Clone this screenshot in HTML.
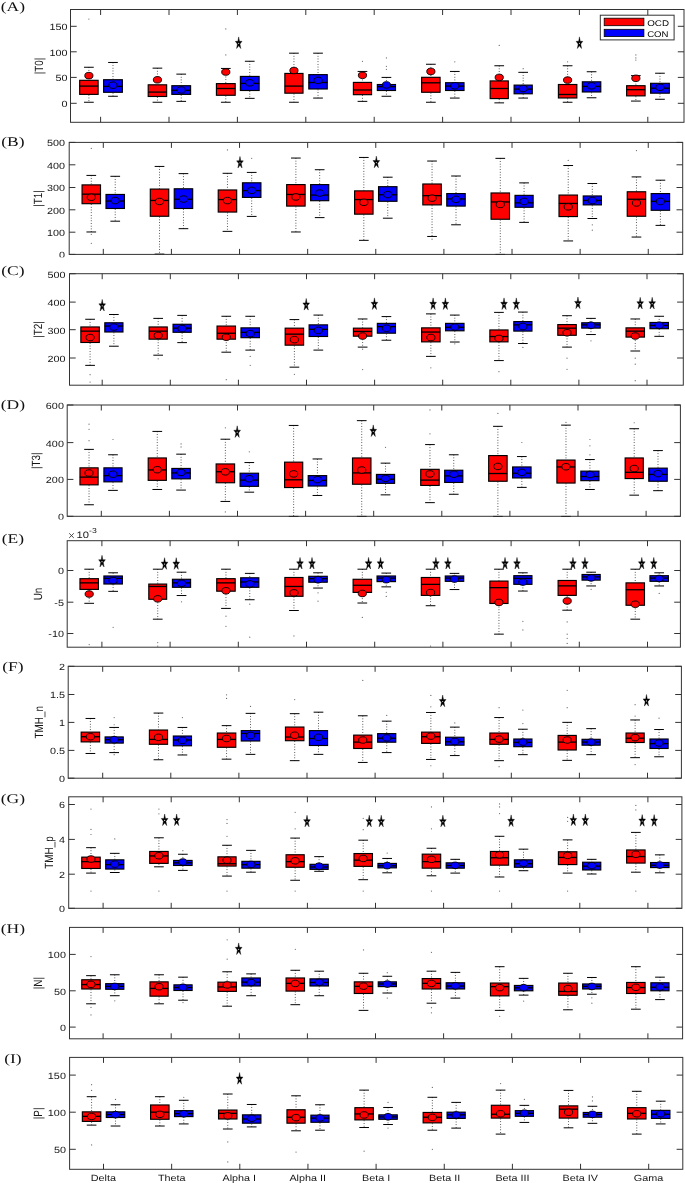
<!DOCTYPE html>
<html><head><meta charset="utf-8"><title>Figure</title>
<style>html,body{margin:0;padding:0;background:#fff}body{width:685px;height:1183px;overflow:hidden;font-family:"Liberation Sans",sans-serif}</style>
</head><body>
<svg width="685" height="1183" viewBox="0 0 685 1183" style="display:block;font-family:'Liberation Sans',sans-serif;text-rendering:geometricPrecision;will-change:transform">
<rect width="685" height="1183" fill="#fff"/>
<g id="pA">
<path d="M88.89 67.25V79.82M88.89 94.88V102.26" stroke="#000" stroke-width="0.8" stroke-dasharray="0.8 1.9" fill="none"/>
<path d="M84.04 67.25H93.74M84.04 102.26H93.74" stroke="#000" stroke-width="1" fill="none"/>
<rect x="79.67" y="80.32" width="18.45" height="14.06" fill="#ff0000" stroke="#000" stroke-width="1.15"/>
<path d="M79.57 86.1H98.22" stroke="#000" stroke-width="1.3"/>
<ellipse cx="88.89" cy="75.63" rx="4.1" ry="3.25" fill="#ff0000" stroke="#000" stroke-width="0.9"/>
<circle cx="88.89" cy="19.07" r="0.62" fill="#6a6a6a"/>
<path d="M112.99 62.46V79.22M112.99 92.79V96.28" stroke="#000" stroke-width="0.8" stroke-dasharray="0.8 1.9" fill="none"/>
<path d="M108.14 62.46H117.84M108.14 96.28H117.84" stroke="#000" stroke-width="1" fill="none"/>
<rect x="103.61" y="79.72" width="18.75" height="12.57" fill="#0000ff" stroke="#000" stroke-width="1.15"/>
<path d="M103.51 86.4H122.46" stroke="#000" stroke-width="1.3"/>
<ellipse cx="112.99" cy="85.2" rx="4.1" ry="3.25" fill="#0000ff" stroke="#000" stroke-width="0.9"/>
<path d="M157.43 68.15V84.31M157.43 96.98V102.26" stroke="#000" stroke-width="0.8" stroke-dasharray="0.8 1.9" fill="none"/>
<path d="M152.58 68.15H162.28M152.58 102.26H162.28" stroke="#000" stroke-width="1" fill="none"/>
<rect x="148.2" y="84.81" width="18.45" height="11.67" fill="#ff0000" stroke="#000" stroke-width="1.15"/>
<path d="M148.1 92.09H166.75" stroke="#000" stroke-width="1.3"/>
<ellipse cx="157.43" cy="79.82" rx="4.1" ry="3.25" fill="#ff0000" stroke="#000" stroke-width="0.9"/>
<path d="M181.22 74.13V85.2M181.22 94.88V101.36" stroke="#000" stroke-width="0.8" stroke-dasharray="0.8 1.9" fill="none"/>
<path d="M176.37 74.13H186.07M176.37 101.36H186.07" stroke="#000" stroke-width="1" fill="none"/>
<rect x="171.84" y="85.7" width="18.75" height="8.68" fill="#0000ff" stroke="#000" stroke-width="1.15"/>
<path d="M171.74 90.29H190.69" stroke="#000" stroke-width="1.3"/>
<ellipse cx="181.22" cy="89.99" rx="4.1" ry="3.25" fill="#0000ff" stroke="#000" stroke-width="0.9"/>
<path d="M225.81 68.45V83.11M225.81 95.78V102.26" stroke="#000" stroke-width="0.8" stroke-dasharray="0.8 1.9" fill="none"/>
<path d="M220.96 68.45H230.66M220.96 102.26H230.66" stroke="#000" stroke-width="1" fill="none"/>
<rect x="216.43" y="83.61" width="18.75" height="11.67" fill="#ff0000" stroke="#000" stroke-width="1.15"/>
<path d="M216.33 88.5H235.29" stroke="#000" stroke-width="1.3"/>
<ellipse cx="225.81" cy="72.04" rx="4.1" ry="3.25" fill="#ff0000" stroke="#000" stroke-width="0.9"/>
<circle cx="225.81" cy="28.94" r="0.62" fill="#6a6a6a"/>
<circle cx="225.81" cy="54.98" r="0.62" fill="#6a6a6a"/>
<path d="M249.75 61.26V75.93M249.75 90.99V98.37" stroke="#000" stroke-width="0.8" stroke-dasharray="0.8 1.9" fill="none"/>
<path d="M244.9 61.26H254.6M244.9 98.37H254.6" stroke="#000" stroke-width="1" fill="none"/>
<rect x="240.38" y="76.43" width="18.75" height="14.06" fill="#0000ff" stroke="#000" stroke-width="1.15"/>
<path d="M240.28 83.41H259.23" stroke="#000" stroke-width="1.3"/>
<ellipse cx="249.75" cy="82.81" rx="4.1" ry="3.25" fill="#0000ff" stroke="#000" stroke-width="0.9"/>
<polygon points="238.68,36.89 239.48,41.31 242.03,41.33 239.97,44.07 240.75,48.49 238.68,45.78 236.61,48.49 237.39,44.07 235.33,41.33 237.88,41.31" fill="#000" stroke="#000" stroke-width="0.4" stroke-linejoin="miter"/><circle cx="238.68" cy="43.31" r="0.6" fill="#ddd"/>
<path d="M293.94 53.18V72.93M293.94 93.69V102.26" stroke="#000" stroke-width="0.8" stroke-dasharray="0.8 1.9" fill="none"/>
<path d="M289.09 53.18H298.79M289.09 102.26H298.79" stroke="#000" stroke-width="1" fill="none"/>
<rect x="284.86" y="73.43" width="18.15" height="19.75" fill="#ff0000" stroke="#000" stroke-width="1.15"/>
<path d="M284.76 86.1H303.12" stroke="#000" stroke-width="1.3"/>
<ellipse cx="293.94" cy="70.54" rx="4.1" ry="3.25" fill="#ff0000" stroke="#000" stroke-width="0.9"/>
<path d="M318.03 53.18V74.13M318.03 89.5V98.07" stroke="#000" stroke-width="0.8" stroke-dasharray="0.8 1.9" fill="none"/>
<path d="M313.18 53.18H322.88M313.18 98.07H322.88" stroke="#000" stroke-width="1" fill="none"/>
<rect x="308.81" y="74.63" width="18.45" height="14.36" fill="#0000ff" stroke="#000" stroke-width="1.15"/>
<path d="M308.71 82.51H327.36" stroke="#000" stroke-width="1.3"/>
<ellipse cx="318.03" cy="80.42" rx="4.1" ry="3.25" fill="#0000ff" stroke="#000" stroke-width="0.9"/>
<path d="M362.47 71.44V81.91M362.47 95.18V101.36" stroke="#000" stroke-width="0.8" stroke-dasharray="0.8 1.9" fill="none"/>
<path d="M357.62 71.44H367.32M357.62 101.36H367.32" stroke="#000" stroke-width="1" fill="none"/>
<rect x="353.4" y="82.41" width="18.15" height="12.27" fill="#ff0000" stroke="#000" stroke-width="1.15"/>
<path d="M353.3 89.99H371.65" stroke="#000" stroke-width="1.3"/>
<ellipse cx="362.47" cy="75.33" rx="4.1" ry="3.25" fill="#ff0000" stroke="#000" stroke-width="0.9"/>
<circle cx="362.47" cy="61.26" r="0.62" fill="#6a6a6a"/>
<path d="M386.42 77.42V84.01M386.42 90.99V96.28" stroke="#000" stroke-width="0.8" stroke-dasharray="0.8 1.9" fill="none"/>
<path d="M381.57 77.42H391.27M381.57 96.28H391.27" stroke="#000" stroke-width="1" fill="none"/>
<rect x="377.34" y="84.51" width="18.15" height="5.98" fill="#0000ff" stroke="#000" stroke-width="1.15"/>
<path d="M377.24 86.7H395.59" stroke="#000" stroke-width="1.3"/>
<ellipse cx="386.42" cy="84.91" rx="4.1" ry="3.25" fill="#0000ff" stroke="#000" stroke-width="0.9"/>
<circle cx="386.42" cy="57.97" r="0.62" fill="#6a6a6a"/>
<circle cx="386.42" cy="66.35" r="0.62" fill="#6a6a6a"/>
<circle cx="386.42" cy="69.34" r="0.62" fill="#6a6a6a"/>
<path d="M430.86 64.26V76.82M430.86 92.79V102.26" stroke="#000" stroke-width="0.8" stroke-dasharray="0.8 1.9" fill="none"/>
<path d="M426.01 64.26H435.71M426.01 102.26H435.71" stroke="#000" stroke-width="1" fill="none"/>
<rect x="421.63" y="77.32" width="18.45" height="14.96" fill="#ff0000" stroke="#000" stroke-width="1.15"/>
<path d="M421.53 82.81H440.18" stroke="#000" stroke-width="1.3"/>
<ellipse cx="430.86" cy="71.44" rx="4.1" ry="3.25" fill="#ff0000" stroke="#000" stroke-width="0.9"/>
<path d="M454.8 71.44V82.21M454.8 90.99V98.07" stroke="#000" stroke-width="0.8" stroke-dasharray="0.8 1.9" fill="none"/>
<path d="M449.95 71.44H459.65M449.95 98.07H459.65" stroke="#000" stroke-width="1" fill="none"/>
<rect x="445.57" y="82.71" width="18.45" height="7.78" fill="#0000ff" stroke="#000" stroke-width="1.15"/>
<path d="M445.47 86.1H464.13" stroke="#000" stroke-width="1.3"/>
<ellipse cx="454.8" cy="85.8" rx="4.1" ry="3.25" fill="#0000ff" stroke="#000" stroke-width="0.9"/>
<circle cx="454.8" cy="61.86" r="0.62" fill="#6a6a6a"/>
<path d="M499.24 65.75V80.42M499.24 99.07V102.86" stroke="#000" stroke-width="0.8" stroke-dasharray="0.8 1.9" fill="none"/>
<path d="M494.39 65.75H504.09M494.39 102.86H504.09" stroke="#000" stroke-width="1" fill="none"/>
<rect x="490.16" y="80.92" width="18.15" height="17.66" fill="#ff0000" stroke="#000" stroke-width="1.15"/>
<path d="M490.06 88.5H508.42" stroke="#000" stroke-width="1.3"/>
<ellipse cx="499.24" cy="77.42" rx="4.1" ry="3.25" fill="#ff0000" stroke="#000" stroke-width="0.9"/>
<circle cx="499.24" cy="45.4" r="0.62" fill="#6a6a6a"/>
<path d="M523.18 72.34V84.61M523.18 94.28V98.07" stroke="#000" stroke-width="0.8" stroke-dasharray="0.8 1.9" fill="none"/>
<path d="M518.33 72.34H528.03M518.33 98.07H528.03" stroke="#000" stroke-width="1" fill="none"/>
<rect x="514.11" y="85.11" width="18.15" height="8.68" fill="#0000ff" stroke="#000" stroke-width="1.15"/>
<path d="M514.01 89.1H532.36" stroke="#000" stroke-width="1.3"/>
<ellipse cx="523.18" cy="88.5" rx="4.1" ry="3.25" fill="#0000ff" stroke="#000" stroke-width="0.9"/>
<circle cx="523.18" cy="68.74" r="0.62" fill="#6a6a6a"/>
<path d="M567.62 65.75V84.01M567.62 98.47V102.26" stroke="#000" stroke-width="0.8" stroke-dasharray="0.8 1.9" fill="none"/>
<path d="M562.77 65.75H572.47M562.77 102.26H572.47" stroke="#000" stroke-width="1" fill="none"/>
<rect x="558.4" y="84.51" width="18.45" height="13.47" fill="#ff0000" stroke="#000" stroke-width="1.15"/>
<path d="M558.3 94.48H576.95" stroke="#000" stroke-width="1.3"/>
<ellipse cx="567.62" cy="80.12" rx="4.1" ry="3.25" fill="#ff0000" stroke="#000" stroke-width="0.9"/>
<circle cx="567.62" cy="61.86" r="0.62" fill="#6a6a6a"/>
<path d="M591.57 71.74V81.31M591.57 92.49V97.77" stroke="#000" stroke-width="0.8" stroke-dasharray="0.8 1.9" fill="none"/>
<path d="M586.72 71.74H596.42M586.72 97.77H596.42" stroke="#000" stroke-width="1" fill="none"/>
<rect x="582.34" y="81.81" width="18.45" height="10.17" fill="#0000ff" stroke="#000" stroke-width="1.15"/>
<path d="M582.24 86.4H600.89" stroke="#000" stroke-width="1.3"/>
<ellipse cx="591.57" cy="85.8" rx="4.1" ry="3.25" fill="#0000ff" stroke="#000" stroke-width="0.9"/>
<path d="M635.86 75.63V85.2M635.86 96.38V101.07" stroke="#000" stroke-width="0.8" stroke-dasharray="0.8 1.9" fill="none"/>
<path d="M631.01 75.63H640.71M631.01 101.07H640.71" stroke="#000" stroke-width="1" fill="none"/>
<rect x="626.63" y="85.7" width="18.45" height="10.17" fill="#ff0000" stroke="#000" stroke-width="1.15"/>
<path d="M626.53 89.69H645.18" stroke="#000" stroke-width="1.3"/>
<ellipse cx="635.86" cy="78.32" rx="4.1" ry="3.25" fill="#ff0000" stroke="#000" stroke-width="0.9"/>
<circle cx="635.86" cy="54.98" r="0.62" fill="#6a6a6a"/>
<circle cx="635.86" cy="57.97" r="0.62" fill="#6a6a6a"/>
<circle cx="635.86" cy="60.07" r="0.62" fill="#6a6a6a"/>
<path d="M659.95 73.23V82.81M659.95 93.69V99.27" stroke="#000" stroke-width="0.8" stroke-dasharray="0.8 1.9" fill="none"/>
<path d="M655.1 73.23H664.8M655.1 99.27H664.8" stroke="#000" stroke-width="1" fill="none"/>
<rect x="650.57" y="83.31" width="18.75" height="9.88" fill="#0000ff" stroke="#000" stroke-width="1.15"/>
<path d="M650.47 88.2H669.42" stroke="#000" stroke-width="1.3"/>
<ellipse cx="659.95" cy="87.3" rx="4.1" ry="3.25" fill="#0000ff" stroke="#000" stroke-width="0.9"/>
<polygon points="579.45,36.89 580.24,41.31 582.8,41.33 580.74,44.07 581.52,48.49 579.45,45.78 577.37,48.49 578.16,44.07 576.1,41.33 578.65,41.31" fill="#000" stroke="#000" stroke-width="0.4" stroke-linejoin="miter"/><circle cx="579.45" cy="43.31" r="0.6" fill="#ddd"/>
<rect x="70.5" y="9.5" width="613.5" height="112.8" fill="none" stroke="#333" stroke-width="1"/>
<path d="M100.6 122.3v-5.5M100.6 9.5v5.5M169 122.3v-5.5M169 9.5v5.5M237.4 122.3v-5.5M237.4 9.5v5.5M305.8 122.3v-5.5M305.8 9.5v5.5M374.2 122.3v-5.5M374.2 9.5v5.5M442.6 122.3v-5.5M442.6 9.5v5.5M511 122.3v-5.5M511 9.5v5.5M579.4 122.3v-5.5M579.4 9.5v5.5M647.8 122.3v-5.5M647.8 9.5v5.5M70.5 26.3h6.2M684 26.3h-6.2M70.5 51.8h6.2M684 51.8h-6.2M70.5 77.4h6.2M684 77.4h-6.2M70.5 103.3h6.2M684 103.3h-6.2" stroke="#333" stroke-width="1" fill="none"/>
<text transform="translate(67.5 30.2) scale(1.2 1)" font-size="9" text-anchor="end" fill="#151515">150</text>
<text transform="translate(67.5 55.7) scale(1.2 1)" font-size="9" text-anchor="end" fill="#151515">100</text>
<text transform="translate(67.5 81.3) scale(1.2 1)" font-size="9" text-anchor="end" fill="#151515">50</text>
<text transform="translate(67.5 107.2) scale(1.2 1)" font-size="9" text-anchor="end" fill="#151515">0</text>
<text transform="translate(43.4 65.9) scale(1.2 1) rotate(-90)" font-size="9.9" text-anchor="middle" fill="#151515">|T0|</text>
<text transform="translate(12.9 10.9) scale(1.316 1)" font-family="'Liberation Serif',serif" font-size="13.3" text-anchor="middle" fill="#111">(A)</text>
</g>
<g id="pB">
<path d="M91.29 175.41V184.39M91.29 204.19V231.97" stroke="#000" stroke-width="0.8" stroke-dasharray="0.8 1.9" fill="none"/>
<path d="M86.44 175.41H96.14M86.44 231.97H96.14" stroke="#000" stroke-width="1" fill="none"/>
<rect x="82.06" y="184.89" width="18.45" height="18.8" fill="#ff0000" stroke="#000" stroke-width="1.15"/>
<path d="M81.96 194.16H100.61" stroke="#000" stroke-width="1.3"/>
<ellipse cx="91.29" cy="197.26" rx="4.1" ry="3.25" fill="#ff0000" stroke="#000" stroke-width="0.9"/>
<circle cx="91.29" cy="148.47" r="0.62" fill="#6a6a6a"/>
<circle cx="91.29" cy="234.36" r="0.62" fill="#6a6a6a"/>
<circle cx="91.29" cy="243.34" r="0.62" fill="#6a6a6a"/>
<path d="M115.23 176.31V193.96M115.23 208.98V221.2" stroke="#000" stroke-width="0.8" stroke-dasharray="0.8 1.9" fill="none"/>
<path d="M110.38 176.31H120.08M110.38 221.2H120.08" stroke="#000" stroke-width="1" fill="none"/>
<rect x="106" y="194.46" width="18.45" height="14.01" fill="#0000ff" stroke="#000" stroke-width="1.15"/>
<path d="M105.9 201.05H124.56" stroke="#000" stroke-width="1.3"/>
<ellipse cx="115.23" cy="200.55" rx="4.1" ry="3.25" fill="#0000ff" stroke="#000" stroke-width="0.9"/>
<path d="M159.52 166.43V188.58M159.52 216.76V254.12" stroke="#000" stroke-width="0.8" stroke-dasharray="0.8 1.9" fill="none"/>
<path d="M154.67 166.43H164.37M154.67 254.12H164.37" stroke="#000" stroke-width="1" fill="none"/>
<rect x="150.3" y="189.08" width="18.45" height="27.18" fill="#ff0000" stroke="#000" stroke-width="1.15"/>
<path d="M150.2 200.45H168.85" stroke="#000" stroke-width="1.3"/>
<ellipse cx="159.52" cy="201.45" rx="4.1" ry="3.25" fill="#ff0000" stroke="#000" stroke-width="0.9"/>
<path d="M183.46 173.61V188.28M183.46 208.98V228.68" stroke="#000" stroke-width="0.8" stroke-dasharray="0.8 1.9" fill="none"/>
<path d="M178.61 173.61H188.31M178.61 228.68H188.31" stroke="#000" stroke-width="1" fill="none"/>
<rect x="174.24" y="188.78" width="18.45" height="19.7" fill="#0000ff" stroke="#000" stroke-width="1.15"/>
<path d="M174.14 199.25H192.79" stroke="#000" stroke-width="1.3"/>
<ellipse cx="183.46" cy="199.05" rx="4.1" ry="3.25" fill="#0000ff" stroke="#000" stroke-width="0.9"/>
<path d="M227.46 173.31V189.47M227.46 212.57V231.37" stroke="#000" stroke-width="0.8" stroke-dasharray="0.8 1.9" fill="none"/>
<path d="M222.61 173.31H232.31M222.61 231.37H232.31" stroke="#000" stroke-width="1" fill="none"/>
<rect x="218.23" y="189.97" width="18.45" height="22.09" fill="#ff0000" stroke="#000" stroke-width="1.15"/>
<path d="M218.13 199.55H236.78" stroke="#000" stroke-width="1.3"/>
<ellipse cx="227.46" cy="200.55" rx="4.1" ry="3.25" fill="#ff0000" stroke="#000" stroke-width="0.9"/>
<circle cx="227.46" cy="149.97" r="0.62" fill="#6a6a6a"/>
<path d="M251.7 172.42V182.29M251.7 197.9V216.41" stroke="#000" stroke-width="0.8" stroke-dasharray="0.8 1.9" fill="none"/>
<path d="M246.85 172.42H256.55M246.85 216.41H256.55" stroke="#000" stroke-width="1" fill="none"/>
<rect x="242.47" y="182.79" width="18.45" height="14.61" fill="#0000ff" stroke="#000" stroke-width="1.15"/>
<path d="M242.37 190.57H261.02" stroke="#000" stroke-width="1.3"/>
<ellipse cx="251.7" cy="190.37" rx="4.1" ry="3.25" fill="#0000ff" stroke="#000" stroke-width="0.9"/>
<circle cx="251.7" cy="158.35" r="0.62" fill="#6a6a6a"/>
<polygon points="239.98,156.43 240.77,160.84 243.33,160.86 241.27,163.6 242.05,168.03 239.98,165.31 237.91,168.03 238.69,163.6 236.63,160.86 239.18,160.84" fill="#000" stroke="#000" stroke-width="0.4" stroke-linejoin="miter"/><circle cx="239.98" cy="162.84" r="0.6" fill="#ddd"/>
<path d="M295.89 158.05V184.09M295.89 206.58V231.97" stroke="#000" stroke-width="0.8" stroke-dasharray="0.8 1.9" fill="none"/>
<path d="M291.04 158.05H300.74M291.04 231.97H300.74" stroke="#000" stroke-width="1" fill="none"/>
<rect x="286.66" y="184.59" width="18.45" height="21.5" fill="#ff0000" stroke="#000" stroke-width="1.15"/>
<path d="M286.56 194.46H305.21" stroke="#000" stroke-width="1.3"/>
<ellipse cx="295.89" cy="196.96" rx="4.1" ry="3.25" fill="#ff0000" stroke="#000" stroke-width="0.9"/>
<path d="M319.68 169.72V184.09M319.68 201.2V217.61" stroke="#000" stroke-width="0.8" stroke-dasharray="0.8 1.9" fill="none"/>
<path d="M314.83 169.72H324.53M314.83 217.61H324.53" stroke="#000" stroke-width="1" fill="none"/>
<rect x="310.6" y="184.59" width="18.15" height="16.11" fill="#0000ff" stroke="#000" stroke-width="1.15"/>
<path d="M310.5 195.06H328.86" stroke="#000" stroke-width="1.3"/>
<ellipse cx="319.68" cy="193.07" rx="4.1" ry="3.25" fill="#0000ff" stroke="#000" stroke-width="0.9"/>
<path d="M363.82 157.45V190.37M363.82 214.66V240.35" stroke="#000" stroke-width="0.8" stroke-dasharray="0.8 1.9" fill="none"/>
<path d="M358.97 157.45H368.67M358.97 240.35H368.67" stroke="#000" stroke-width="1" fill="none"/>
<rect x="354.59" y="190.87" width="18.45" height="23.29" fill="#ff0000" stroke="#000" stroke-width="1.15"/>
<path d="M354.49 199.55H373.15" stroke="#000" stroke-width="1.3"/>
<ellipse cx="363.82" cy="202.34" rx="4.1" ry="3.25" fill="#ff0000" stroke="#000" stroke-width="0.9"/>
<path d="M387.76 177.2V186.18M387.76 201.8V218.2" stroke="#000" stroke-width="0.8" stroke-dasharray="0.8 1.9" fill="none"/>
<path d="M382.91 177.2H392.61M382.91 218.2H392.61" stroke="#000" stroke-width="1" fill="none"/>
<rect x="378.54" y="186.68" width="18.45" height="14.61" fill="#0000ff" stroke="#000" stroke-width="1.15"/>
<path d="M378.44 194.76H397.09" stroke="#000" stroke-width="1.3"/>
<ellipse cx="387.76" cy="194.56" rx="4.1" ry="3.25" fill="#0000ff" stroke="#000" stroke-width="0.9"/>
<path d="M432.05 161.04V183.49M432.05 205.39V236.46" stroke="#000" stroke-width="0.8" stroke-dasharray="0.8 1.9" fill="none"/>
<path d="M427.2 161.04H436.9M427.2 236.46H436.9" stroke="#000" stroke-width="1" fill="none"/>
<rect x="422.83" y="183.99" width="18.45" height="20.9" fill="#ff0000" stroke="#000" stroke-width="1.15"/>
<path d="M422.73 195.66H441.38" stroke="#000" stroke-width="1.3"/>
<ellipse cx="432.05" cy="198.15" rx="4.1" ry="3.25" fill="#ff0000" stroke="#000" stroke-width="0.9"/>
<circle cx="432.05" cy="239.15" r="0.62" fill="#6a6a6a"/>
<path d="M456 176.01V193.07M456 206.58V224.79" stroke="#000" stroke-width="0.8" stroke-dasharray="0.8 1.9" fill="none"/>
<path d="M451.15 176.01H460.85M451.15 224.79H460.85" stroke="#000" stroke-width="1" fill="none"/>
<rect x="446.77" y="193.57" width="18.45" height="12.52" fill="#0000ff" stroke="#000" stroke-width="1.15"/>
<path d="M446.67 198.95H465.32" stroke="#000" stroke-width="1.3"/>
<ellipse cx="456" cy="199.35" rx="4.1" ry="3.25" fill="#0000ff" stroke="#000" stroke-width="0.9"/>
<polygon points="376.34,156.13 377.14,160.54 379.69,160.56 377.63,163.3 378.41,167.73 376.34,165.01 374.27,167.73 375.05,163.3 372.99,160.56 375.54,160.54" fill="#000" stroke="#000" stroke-width="0.4" stroke-linejoin="miter"/><circle cx="376.34" cy="162.54" r="0.6" fill="#ddd"/>
<path d="M500.29 158.35V192.47M500.29 219.75V254.42" stroke="#000" stroke-width="0.8" stroke-dasharray="0.8 1.9" fill="none"/>
<path d="M495.44 158.35H505.14M495.44 254.42H505.14" stroke="#000" stroke-width="1" fill="none"/>
<rect x="491.06" y="192.97" width="18.45" height="26.28" fill="#ff0000" stroke="#000" stroke-width="1.15"/>
<path d="M490.96 201.94H509.61" stroke="#000" stroke-width="1.3"/>
<ellipse cx="500.29" cy="204.44" rx="4.1" ry="3.25" fill="#ff0000" stroke="#000" stroke-width="0.9"/>
<path d="M524.08 182.89V194.86M524.08 207.78V222.39" stroke="#000" stroke-width="0.8" stroke-dasharray="0.8 1.9" fill="none"/>
<path d="M519.23 182.89H528.93M519.23 222.39H528.93" stroke="#000" stroke-width="1" fill="none"/>
<rect x="515" y="195.36" width="18.15" height="11.92" fill="#0000ff" stroke="#000" stroke-width="1.15"/>
<path d="M514.9 202.84H533.26" stroke="#000" stroke-width="1.3"/>
<ellipse cx="524.08" cy="201.45" rx="4.1" ry="3.25" fill="#0000ff" stroke="#000" stroke-width="0.9"/>
<path d="M568.22 165.53V194.56M568.22 217.06V240.95" stroke="#000" stroke-width="0.8" stroke-dasharray="0.8 1.9" fill="none"/>
<path d="M563.37 165.53H573.07M563.37 240.95H573.07" stroke="#000" stroke-width="1" fill="none"/>
<rect x="559" y="195.06" width="18.45" height="21.5" fill="#ff0000" stroke="#000" stroke-width="1.15"/>
<path d="M558.9 203.44H577.55" stroke="#000" stroke-width="1.3"/>
<ellipse cx="568.22" cy="206.83" rx="4.1" ry="3.25" fill="#ff0000" stroke="#000" stroke-width="0.9"/>
<circle cx="568.22" cy="160.45" r="0.62" fill="#6a6a6a"/>
<path d="M592.31 183.49V195.46M592.31 205.39V218.5" stroke="#000" stroke-width="0.8" stroke-dasharray="0.8 1.9" fill="none"/>
<path d="M587.46 183.49H597.16M587.46 218.5H597.16" stroke="#000" stroke-width="1" fill="none"/>
<rect x="583.24" y="195.96" width="18.15" height="8.93" fill="#0000ff" stroke="#000" stroke-width="1.15"/>
<path d="M583.14 200.45H601.49" stroke="#000" stroke-width="1.3"/>
<ellipse cx="592.31" cy="200.55" rx="4.1" ry="3.25" fill="#0000ff" stroke="#000" stroke-width="0.9"/>
<circle cx="592.31" cy="224.79" r="0.62" fill="#6a6a6a"/>
<circle cx="592.31" cy="230.18" r="0.62" fill="#6a6a6a"/>
<path d="M636.46 176.91V191.27M636.46 216.76V237.06" stroke="#000" stroke-width="0.8" stroke-dasharray="0.8 1.9" fill="none"/>
<path d="M631.61 176.91H641.31M631.61 237.06H641.31" stroke="#000" stroke-width="1" fill="none"/>
<rect x="627.23" y="191.77" width="18.45" height="24.49" fill="#ff0000" stroke="#000" stroke-width="1.15"/>
<path d="M627.13 199.25H645.78" stroke="#000" stroke-width="1.3"/>
<ellipse cx="636.46" cy="202.94" rx="4.1" ry="3.25" fill="#ff0000" stroke="#000" stroke-width="0.9"/>
<circle cx="636.46" cy="150.57" r="0.62" fill="#6a6a6a"/>
<path d="M660.4 180.2V193.07M660.4 210.77V225.39" stroke="#000" stroke-width="0.8" stroke-dasharray="0.8 1.9" fill="none"/>
<path d="M655.55 180.2H665.25M655.55 225.39H665.25" stroke="#000" stroke-width="1" fill="none"/>
<rect x="651.17" y="193.57" width="18.45" height="16.71" fill="#0000ff" stroke="#000" stroke-width="1.15"/>
<path d="M651.07 201.35H669.72" stroke="#000" stroke-width="1.3"/>
<ellipse cx="660.4" cy="201.45" rx="4.1" ry="3.25" fill="#0000ff" stroke="#000" stroke-width="0.9"/>
<rect x="69.2" y="142.4" width="613.5" height="112" fill="none" stroke="#333" stroke-width="1"/>
<path d="M103.3 254.4v-5.5M103.3 142.4v5.5M171.42 254.4v-5.5M171.42 142.4v5.5M239.54 254.4v-5.5M239.54 142.4v5.5M307.66 254.4v-5.5M307.66 142.4v5.5M375.78 254.4v-5.5M375.78 142.4v5.5M443.9 254.4v-5.5M443.9 142.4v5.5M512.02 254.4v-5.5M512.02 142.4v5.5M580.14 254.4v-5.5M580.14 142.4v5.5M648.26 254.4v-5.5M648.26 142.4v5.5M69.2 142.4h6.2M682.7 142.4h-6.2M69.2 164.8h6.2M682.7 164.8h-6.2M69.2 187.5h6.2M682.7 187.5h-6.2M69.2 209.8h6.2M682.7 209.8h-6.2M69.2 232.2h6.2M682.7 232.2h-6.2M69.2 254.4h6.2M682.7 254.4h-6.2" stroke="#333" stroke-width="1" fill="none"/>
<text transform="translate(65.1 146.3) scale(1.2 1)" font-size="9" text-anchor="end" fill="#151515">500</text>
<text transform="translate(65.1 168.7) scale(1.2 1)" font-size="9" text-anchor="end" fill="#151515">400</text>
<text transform="translate(65.1 191.4) scale(1.2 1)" font-size="9" text-anchor="end" fill="#151515">300</text>
<text transform="translate(65.1 213.7) scale(1.2 1)" font-size="9" text-anchor="end" fill="#151515">200</text>
<text transform="translate(65.1 236.1) scale(1.2 1)" font-size="9" text-anchor="end" fill="#151515">100</text>
<text transform="translate(65.1 258.3) scale(1.2 1)" font-size="9" text-anchor="end" fill="#151515">0</text>
<text transform="translate(42.2 198.4) scale(1.2 1) rotate(-90)" font-size="9.9" text-anchor="middle" fill="#151515">|T1|</text>
<text transform="translate(12.9 145.8) scale(1.316 1)" font-family="'Liberation Serif',serif" font-size="13.3" text-anchor="middle" fill="#111">(B)</text>
</g>
<g id="pC">
<path d="M90.09 319.28V326.46M90.09 342.97V365.36" stroke="#000" stroke-width="0.8" stroke-dasharray="0.8 1.9" fill="none"/>
<path d="M85.24 319.28H94.94M85.24 365.36H94.94" stroke="#000" stroke-width="1" fill="none"/>
<rect x="80.86" y="326.96" width="18.45" height="15.51" fill="#ff0000" stroke="#000" stroke-width="1.15"/>
<path d="M80.76 331.15H99.42" stroke="#000" stroke-width="1.3"/>
<ellipse cx="90.09" cy="337.53" rx="4.1" ry="3.25" fill="#ff0000" stroke="#000" stroke-width="0.9"/>
<circle cx="90.09" cy="374.64" r="0.62" fill="#6a6a6a"/>
<circle cx="90.09" cy="382.12" r="0.62" fill="#6a6a6a"/>
<path d="M113.88 314.49V322.27M113.88 332.5V346.21" stroke="#000" stroke-width="0.8" stroke-dasharray="0.8 1.9" fill="none"/>
<path d="M109.03 314.49H118.73M109.03 346.21H118.73" stroke="#000" stroke-width="1" fill="none"/>
<rect x="104.81" y="322.77" width="18.15" height="9.23" fill="#0000ff" stroke="#000" stroke-width="1.15"/>
<path d="M104.71 326.06H123.06" stroke="#000" stroke-width="1.3"/>
<ellipse cx="113.88" cy="327.06" rx="4.1" ry="3.25" fill="#0000ff" stroke="#000" stroke-width="0.9"/>
<path d="M158.18 318.38V326.46M158.18 339.68V355.19" stroke="#000" stroke-width="0.8" stroke-dasharray="0.8 1.9" fill="none"/>
<path d="M153.33 318.38H163.03M153.33 355.19H163.03" stroke="#000" stroke-width="1" fill="none"/>
<rect x="149.1" y="326.96" width="18.15" height="12.22" fill="#ff0000" stroke="#000" stroke-width="1.15"/>
<path d="M149 331.15H167.35" stroke="#000" stroke-width="1.3"/>
<ellipse cx="158.18" cy="335.44" rx="4.1" ry="3.25" fill="#ff0000" stroke="#000" stroke-width="0.9"/>
<circle cx="158.18" cy="358.78" r="0.62" fill="#6a6a6a"/>
<path d="M182.12 315.39V323.77M182.12 332.8V342.62" stroke="#000" stroke-width="0.8" stroke-dasharray="0.8 1.9" fill="none"/>
<path d="M177.27 315.39H186.97M177.27 342.62H186.97" stroke="#000" stroke-width="1" fill="none"/>
<rect x="173.04" y="324.27" width="18.15" height="8.03" fill="#0000ff" stroke="#000" stroke-width="1.15"/>
<path d="M172.94 328.16H191.29" stroke="#000" stroke-width="1.3"/>
<ellipse cx="182.12" cy="328.55" rx="4.1" ry="3.25" fill="#0000ff" stroke="#000" stroke-width="0.9"/>
<path d="M226.26 316.28V325.56M226.26 339.68V352.2" stroke="#000" stroke-width="0.8" stroke-dasharray="0.8 1.9" fill="none"/>
<path d="M221.41 316.28H231.11M221.41 352.2H231.11" stroke="#000" stroke-width="1" fill="none"/>
<rect x="217.03" y="326.06" width="18.45" height="13.12" fill="#ff0000" stroke="#000" stroke-width="1.15"/>
<path d="M216.93 333.24H235.59" stroke="#000" stroke-width="1.3"/>
<ellipse cx="226.26" cy="337.23" rx="4.1" ry="3.25" fill="#ff0000" stroke="#000" stroke-width="0.9"/>
<circle cx="226.26" cy="379.73" r="0.62" fill="#6a6a6a"/>
<path d="M250.2 316.28V327.36M250.2 338.18V350.1" stroke="#000" stroke-width="0.8" stroke-dasharray="0.8 1.9" fill="none"/>
<path d="M245.35 316.28H255.05M245.35 350.1H255.05" stroke="#000" stroke-width="1" fill="none"/>
<rect x="240.97" y="327.86" width="18.45" height="9.82" fill="#0000ff" stroke="#000" stroke-width="1.15"/>
<path d="M240.87 332.35H259.53" stroke="#000" stroke-width="1.3"/>
<ellipse cx="250.2" cy="333.64" rx="4.1" ry="3.25" fill="#0000ff" stroke="#000" stroke-width="0.9"/>
<circle cx="250.2" cy="356.39" r="0.62" fill="#6a6a6a"/>
<circle cx="250.2" cy="365.36" r="0.62" fill="#6a6a6a"/>
<polygon points="102.21,299.4 103.01,303.81 105.56,303.83 103.5,306.57 104.28,311 102.21,308.28 100.14,311 100.92,306.57 98.86,303.83 101.41,303.81" fill="#000" stroke="#000" stroke-width="0.4" stroke-linejoin="miter"/><circle cx="102.21" cy="305.81" r="0.6" fill="#ddd"/>
<path d="M294.39 319.58V327.66M294.39 345.66V367.16" stroke="#000" stroke-width="0.8" stroke-dasharray="0.8 1.9" fill="none"/>
<path d="M289.54 319.58H299.24M289.54 367.16H299.24" stroke="#000" stroke-width="1" fill="none"/>
<rect x="285.16" y="328.16" width="18.45" height="17.01" fill="#ff0000" stroke="#000" stroke-width="1.15"/>
<path d="M285.06 334.14H303.72" stroke="#000" stroke-width="1.3"/>
<ellipse cx="294.39" cy="339.63" rx="4.1" ry="3.25" fill="#ff0000" stroke="#000" stroke-width="0.9"/>
<circle cx="294.39" cy="374.34" r="0.62" fill="#6a6a6a"/>
<path d="M318.33 315.09V324.36M318.33 336.99V350.1" stroke="#000" stroke-width="0.8" stroke-dasharray="0.8 1.9" fill="none"/>
<path d="M313.48 315.09H323.18M313.48 350.1H323.18" stroke="#000" stroke-width="1" fill="none"/>
<rect x="309.11" y="324.86" width="18.45" height="11.62" fill="#0000ff" stroke="#000" stroke-width="1.15"/>
<path d="M309.01 329.35H327.66" stroke="#000" stroke-width="1.3"/>
<ellipse cx="318.33" cy="330.35" rx="4.1" ry="3.25" fill="#0000ff" stroke="#000" stroke-width="0.9"/>
<path d="M362.62 318.98V327.66M362.62 336.69V347.11" stroke="#000" stroke-width="0.8" stroke-dasharray="0.8 1.9" fill="none"/>
<path d="M357.77 318.98H367.47M357.77 347.11H367.47" stroke="#000" stroke-width="1" fill="none"/>
<rect x="353.4" y="328.16" width="18.45" height="8.03" fill="#ff0000" stroke="#000" stroke-width="1.15"/>
<path d="M353.3 331.45H371.95" stroke="#000" stroke-width="1.3"/>
<ellipse cx="362.62" cy="336.04" rx="4.1" ry="3.25" fill="#ff0000" stroke="#000" stroke-width="0.9"/>
<circle cx="362.62" cy="349.2" r="0.62" fill="#6a6a6a"/>
<circle cx="362.62" cy="369.55" r="0.62" fill="#6a6a6a"/>
<path d="M386.42 316.58V322.87M386.42 333.69V340.23" stroke="#000" stroke-width="0.8" stroke-dasharray="0.8 1.9" fill="none"/>
<path d="M381.57 316.58H391.27M381.57 340.23H391.27" stroke="#000" stroke-width="1" fill="none"/>
<rect x="377.34" y="323.37" width="18.15" height="9.82" fill="#0000ff" stroke="#000" stroke-width="1.15"/>
<path d="M377.24 326.66H395.59" stroke="#000" stroke-width="1.3"/>
<ellipse cx="386.42" cy="328.26" rx="4.1" ry="3.25" fill="#0000ff" stroke="#000" stroke-width="0.9"/>
<path d="M430.86 313.89V327.36M430.86 342.37V356.39" stroke="#000" stroke-width="0.8" stroke-dasharray="0.8 1.9" fill="none"/>
<path d="M426.01 313.89H435.71M426.01 356.39H435.71" stroke="#000" stroke-width="1" fill="none"/>
<rect x="421.63" y="327.86" width="18.45" height="14.01" fill="#ff0000" stroke="#000" stroke-width="1.15"/>
<path d="M421.53 332.05H440.18" stroke="#000" stroke-width="1.3"/>
<ellipse cx="430.86" cy="337.53" rx="4.1" ry="3.25" fill="#ff0000" stroke="#000" stroke-width="0.9"/>
<circle cx="430.86" cy="367.76" r="0.62" fill="#6a6a6a"/>
<path d="M454.8 315.09V322.87M454.8 331.3V342.02" stroke="#000" stroke-width="0.8" stroke-dasharray="0.8 1.9" fill="none"/>
<path d="M449.95 315.09H459.65M449.95 342.02H459.65" stroke="#000" stroke-width="1" fill="none"/>
<rect x="445.57" y="323.37" width="18.45" height="7.43" fill="#0000ff" stroke="#000" stroke-width="1.15"/>
<path d="M445.47 327.26H464.13" stroke="#000" stroke-width="1.3"/>
<ellipse cx="454.8" cy="327.06" rx="4.1" ry="3.25" fill="#0000ff" stroke="#000" stroke-width="0.9"/>
<circle cx="454.8" cy="343.82" r="0.62" fill="#6a6a6a"/>
<polygon points="306.21,298.5 307.01,302.92 309.56,302.93 307.5,305.68 308.28,310.1 306.21,307.38 304.14,310.1 304.92,305.68 302.86,302.93 305.41,302.92" fill="#000" stroke="#000" stroke-width="0.4" stroke-linejoin="miter"/><circle cx="306.21" cy="304.91" r="0.6" fill="#ddd"/>
<polygon points="374.45,297.9 375.24,302.32 377.8,302.33 375.74,305.08 376.52,309.5 374.45,306.78 372.37,309.5 373.16,305.08 371.1,302.33 373.65,302.32" fill="#000" stroke="#000" stroke-width="0.4" stroke-linejoin="miter"/><circle cx="374.45" cy="304.31" r="0.6" fill="#ddd"/>
<polygon points="433.1,297.9 433.9,302.32 436.45,302.33 434.39,305.08 435.17,309.5 433.1,306.78 431.03,309.5 431.81,305.08 429.75,302.33 432.31,302.32" fill="#000" stroke="#000" stroke-width="0.4" stroke-linejoin="miter"/><circle cx="433.1" cy="304.31" r="0.6" fill="#ddd"/>
<polygon points="445.37,297.9 446.17,302.32 448.72,302.33 446.66,305.08 447.44,309.5 445.37,306.78 443.3,309.5 444.08,305.08 442.02,302.33 444.58,302.32" fill="#000" stroke="#000" stroke-width="0.4" stroke-linejoin="miter"/><circle cx="445.37" cy="304.31" r="0.6" fill="#ddd"/>
<path d="M498.94 312.39V329.45M498.94 342.37V360.58" stroke="#000" stroke-width="0.8" stroke-dasharray="0.8 1.9" fill="none"/>
<path d="M494.09 312.39H503.79M494.09 360.58H503.79" stroke="#000" stroke-width="1" fill="none"/>
<rect x="489.86" y="329.95" width="18.15" height="11.92" fill="#ff0000" stroke="#000" stroke-width="1.15"/>
<path d="M489.76 336.54H508.12" stroke="#000" stroke-width="1.3"/>
<ellipse cx="498.94" cy="338.43" rx="4.1" ry="3.25" fill="#ff0000" stroke="#000" stroke-width="0.9"/>
<circle cx="498.94" cy="371.65" r="0.62" fill="#6a6a6a"/>
<path d="M522.88 312.09V321.07M522.88 331.6V343.52" stroke="#000" stroke-width="0.8" stroke-dasharray="0.8 1.9" fill="none"/>
<path d="M518.03 312.09H527.73M518.03 343.52H527.73" stroke="#000" stroke-width="1" fill="none"/>
<rect x="513.81" y="321.57" width="18.15" height="9.53" fill="#0000ff" stroke="#000" stroke-width="1.15"/>
<path d="M513.71 324.86H532.06" stroke="#000" stroke-width="1.3"/>
<ellipse cx="522.88" cy="326.46" rx="4.1" ry="3.25" fill="#0000ff" stroke="#000" stroke-width="0.9"/>
<circle cx="522.88" cy="347.41" r="0.62" fill="#6a6a6a"/>
<path d="M567.03 315.69V324.07M567.03 335.79V347.11" stroke="#000" stroke-width="0.8" stroke-dasharray="0.8 1.9" fill="none"/>
<path d="M562.18 315.69H571.88M562.18 347.11H571.88" stroke="#000" stroke-width="1" fill="none"/>
<rect x="557.8" y="324.57" width="18.45" height="10.72" fill="#ff0000" stroke="#000" stroke-width="1.15"/>
<path d="M557.7 328.16H576.35" stroke="#000" stroke-width="1.3"/>
<ellipse cx="567.03" cy="332.74" rx="4.1" ry="3.25" fill="#ff0000" stroke="#000" stroke-width="0.9"/>
<circle cx="567.03" cy="358.18" r="0.62" fill="#6a6a6a"/>
<circle cx="567.03" cy="369.26" r="0.62" fill="#6a6a6a"/>
<path d="M590.97 318.38V322.27M590.97 328.61V334.54" stroke="#000" stroke-width="0.8" stroke-dasharray="0.8 1.9" fill="none"/>
<path d="M586.12 318.38H595.82M586.12 334.54H595.82" stroke="#000" stroke-width="1" fill="none"/>
<rect x="581.74" y="322.77" width="18.45" height="5.34" fill="#0000ff" stroke="#000" stroke-width="1.15"/>
<path d="M581.64 324.86H600.29" stroke="#000" stroke-width="1.3"/>
<ellipse cx="590.97" cy="325.26" rx="4.1" ry="3.25" fill="#0000ff" stroke="#000" stroke-width="0.9"/>
<circle cx="590.97" cy="340.82" r="0.62" fill="#6a6a6a"/>
<path d="M635.26 318.98V327.36M635.26 337.58V351" stroke="#000" stroke-width="0.8" stroke-dasharray="0.8 1.9" fill="none"/>
<path d="M630.41 318.98H640.11M630.41 351H640.11" stroke="#000" stroke-width="1" fill="none"/>
<rect x="626.03" y="327.86" width="18.45" height="9.23" fill="#ff0000" stroke="#000" stroke-width="1.15"/>
<path d="M625.93 331.15H644.59" stroke="#000" stroke-width="1.3"/>
<ellipse cx="635.26" cy="336.04" rx="4.1" ry="3.25" fill="#ff0000" stroke="#000" stroke-width="0.9"/>
<circle cx="635.26" cy="358.18" r="0.62" fill="#6a6a6a"/>
<circle cx="635.26" cy="364.17" r="0.62" fill="#6a6a6a"/>
<circle cx="635.26" cy="380.63" r="0.62" fill="#6a6a6a"/>
<path d="M659.2 316.28V321.97M659.2 329.2V336.34" stroke="#000" stroke-width="0.8" stroke-dasharray="0.8 1.9" fill="none"/>
<path d="M654.35 316.28H664.05M654.35 336.34H664.05" stroke="#000" stroke-width="1" fill="none"/>
<rect x="649.97" y="322.47" width="18.45" height="6.23" fill="#0000ff" stroke="#000" stroke-width="1.15"/>
<path d="M649.87 325.46H668.53" stroke="#000" stroke-width="1.3"/>
<ellipse cx="659.2" cy="325.26" rx="4.1" ry="3.25" fill="#0000ff" stroke="#000" stroke-width="0.9"/>
<polygon points="504.03,297.9 504.83,302.32 507.38,302.33 505.32,305.08 506.1,309.5 504.03,306.78 501.96,309.5 502.74,305.08 500.68,302.33 503.23,302.32" fill="#000" stroke="#000" stroke-width="0.4" stroke-linejoin="miter"/><circle cx="504.03" cy="304.31" r="0.6" fill="#ddd"/>
<polygon points="516.3,297.9 517.1,302.32 519.65,302.33 517.59,305.08 518.37,309.5 516.3,306.78 514.23,309.5 515.01,305.08 512.95,302.33 515.5,302.32" fill="#000" stroke="#000" stroke-width="0.4" stroke-linejoin="miter"/><circle cx="516.3" cy="304.31" r="0.6" fill="#ddd"/>
<polygon points="577.95,297 578.75,301.42 581.3,301.43 579.24,304.18 580.02,308.6 577.95,305.88 575.88,308.6 576.66,304.18 574.6,301.43 577.15,301.42" fill="#000" stroke="#000" stroke-width="0.4" stroke-linejoin="miter"/><circle cx="577.95" cy="303.42" r="0.6" fill="#ddd"/>
<polygon points="640.2,297.3 640.99,301.72 643.55,301.73 641.49,304.48 642.27,308.9 640.2,306.18 638.13,308.9 638.91,304.48 636.85,301.73 639.4,301.72" fill="#000" stroke="#000" stroke-width="0.4" stroke-linejoin="miter"/><circle cx="640.2" cy="303.72" r="0.6" fill="#ddd"/>
<polygon points="652.17,297.3 652.97,301.72 655.52,301.73 653.46,304.48 654.24,308.9 652.17,306.18 650.1,308.9 650.88,304.48 648.82,301.73 651.37,301.72" fill="#000" stroke="#000" stroke-width="0.4" stroke-linejoin="miter"/><circle cx="652.17" cy="303.72" r="0.6" fill="#ddd"/>
<rect x="69.5" y="273.7" width="613.8" height="111.5" fill="none" stroke="#333" stroke-width="1"/>
<path d="M102.2 385.2v-5.5M102.2 273.7v5.5M170.3 385.2v-5.5M170.3 273.7v5.5M238.4 385.2v-5.5M238.4 273.7v5.5M306.5 385.2v-5.5M306.5 273.7v5.5M374.6 385.2v-5.5M374.6 273.7v5.5M442.7 385.2v-5.5M442.7 273.7v5.5M510.8 385.2v-5.5M510.8 273.7v5.5M578.9 385.2v-5.5M578.9 273.7v5.5M647 385.2v-5.5M647 273.7v5.5M69.5 273.7h6.2M683.3 273.7h-6.2M69.5 302.1h6.2M683.3 302.1h-6.2M69.5 329.7h6.2M683.3 329.7h-6.2M69.5 358h6.2M683.3 358h-6.2" stroke="#333" stroke-width="1" fill="none"/>
<text transform="translate(65.5 277.6) scale(1.2 1)" font-size="9" text-anchor="end" fill="#151515">500</text>
<text transform="translate(65.5 306) scale(1.2 1)" font-size="9" text-anchor="end" fill="#151515">400</text>
<text transform="translate(65.5 333.6) scale(1.2 1)" font-size="9" text-anchor="end" fill="#151515">300</text>
<text transform="translate(65.5 361.9) scale(1.2 1)" font-size="9" text-anchor="end" fill="#151515">200</text>
<text transform="translate(42.2 329.45) scale(1.2 1) rotate(-90)" font-size="9.9" text-anchor="middle" fill="#151515">|T2|</text>
<text transform="translate(12.9 275.1) scale(1.316 1)" font-family="'Liberation Serif',serif" font-size="13.3" text-anchor="middle" fill="#111">(C)</text>
</g>
<g id="pD">
<path d="M89.04 449.38V467.34M89.04 485.34V504.75" stroke="#000" stroke-width="0.8" stroke-dasharray="0.8 1.9" fill="none"/>
<path d="M84.19 449.38H93.89M84.19 504.75H93.89" stroke="#000" stroke-width="1" fill="none"/>
<rect x="79.97" y="467.84" width="18.15" height="17.01" fill="#ff0000" stroke="#000" stroke-width="1.15"/>
<path d="M79.87 477.11H98.22" stroke="#000" stroke-width="1.3"/>
<ellipse cx="89.04" cy="473.02" rx="4.1" ry="3.25" fill="#ff0000" stroke="#000" stroke-width="0.9"/>
<circle cx="89.04" cy="424.24" r="0.62" fill="#6a6a6a"/>
<circle cx="89.04" cy="429.33" r="0.62" fill="#6a6a6a"/>
<circle cx="89.04" cy="440.7" r="0.62" fill="#6a6a6a"/>
<path d="M112.99 454.77V467.34M112.99 482.35V490.38" stroke="#000" stroke-width="0.8" stroke-dasharray="0.8 1.9" fill="none"/>
<path d="M108.14 454.77H117.84M108.14 490.38H117.84" stroke="#000" stroke-width="1" fill="none"/>
<rect x="103.91" y="467.84" width="18.15" height="14.01" fill="#0000ff" stroke="#000" stroke-width="1.15"/>
<path d="M103.81 475.62H122.16" stroke="#000" stroke-width="1.3"/>
<ellipse cx="112.99" cy="474.22" rx="4.1" ry="3.25" fill="#0000ff" stroke="#000" stroke-width="0.9"/>
<circle cx="112.99" cy="439.5" r="0.62" fill="#6a6a6a"/>
<path d="M157.28 431.42V457.46M157.28 480.85V489.48" stroke="#000" stroke-width="0.8" stroke-dasharray="0.8 1.9" fill="none"/>
<path d="M152.43 431.42H162.13M152.43 489.48H162.13" stroke="#000" stroke-width="1" fill="none"/>
<rect x="148.2" y="457.96" width="18.15" height="22.39" fill="#ff0000" stroke="#000" stroke-width="1.15"/>
<path d="M148.1 469.93H166.45" stroke="#000" stroke-width="1.3"/>
<ellipse cx="157.28" cy="469.73" rx="4.1" ry="3.25" fill="#ff0000" stroke="#000" stroke-width="0.9"/>
<path d="M181.07 454.17V467.94M181.07 479.36V490.08" stroke="#000" stroke-width="0.8" stroke-dasharray="0.8 1.9" fill="none"/>
<path d="M176.22 454.17H185.92M176.22 490.08H185.92" stroke="#000" stroke-width="1" fill="none"/>
<rect x="171.84" y="468.44" width="18.45" height="10.42" fill="#0000ff" stroke="#000" stroke-width="1.15"/>
<path d="M171.74 472.92H190.4" stroke="#000" stroke-width="1.3"/>
<ellipse cx="181.07" cy="472.42" rx="4.1" ry="3.25" fill="#0000ff" stroke="#000" stroke-width="0.9"/>
<circle cx="181.07" cy="443.99" r="0.62" fill="#6a6a6a"/>
<circle cx="181.07" cy="446.99" r="0.62" fill="#6a6a6a"/>
<path d="M225.36 439.21V463.45M225.36 483.25V501.45" stroke="#000" stroke-width="0.8" stroke-dasharray="0.8 1.9" fill="none"/>
<path d="M220.51 439.21H230.21M220.51 501.45H230.21" stroke="#000" stroke-width="1" fill="none"/>
<rect x="216.14" y="463.95" width="18.45" height="18.8" fill="#ff0000" stroke="#000" stroke-width="1.15"/>
<path d="M216.04 471.73H234.69" stroke="#000" stroke-width="1.3"/>
<ellipse cx="225.36" cy="471.83" rx="4.1" ry="3.25" fill="#ff0000" stroke="#000" stroke-width="0.9"/>
<circle cx="225.36" cy="427.83" r="0.62" fill="#6a6a6a"/>
<circle cx="225.36" cy="511.93" r="0.62" fill="#6a6a6a"/>
<path d="M249.3 462.55V472.72M249.3 486.84V492.18" stroke="#000" stroke-width="0.8" stroke-dasharray="0.8 1.9" fill="none"/>
<path d="M244.45 462.55H254.15M244.45 492.18H254.15" stroke="#000" stroke-width="1" fill="none"/>
<rect x="240.08" y="473.22" width="18.45" height="13.12" fill="#0000ff" stroke="#000" stroke-width="1.15"/>
<path d="M239.98 480.11H258.63" stroke="#000" stroke-width="1.3"/>
<ellipse cx="249.3" cy="478.71" rx="4.1" ry="3.25" fill="#0000ff" stroke="#000" stroke-width="0.9"/>
<circle cx="249.3" cy="451.77" r="0.62" fill="#6a6a6a"/>
<polygon points="237.18,425.81 237.98,430.23 240.53,430.24 238.47,432.99 239.25,437.41 237.18,434.69 235.11,437.41 235.89,432.99 233.83,430.24 236.39,430.23" fill="#000" stroke="#000" stroke-width="0.4" stroke-linejoin="miter"/><circle cx="237.18" cy="432.22" r="0.6" fill="#ddd"/>
<path d="M293.64 425.44V461.65M293.64 488.04V516.42" stroke="#000" stroke-width="0.8" stroke-dasharray="0.8 1.9" fill="none"/>
<path d="M288.79 425.44H298.49M288.79 516.42H298.49" stroke="#000" stroke-width="1" fill="none"/>
<rect x="284.57" y="462.15" width="18.15" height="25.39" fill="#ff0000" stroke="#000" stroke-width="1.15"/>
<path d="M284.47 479.81H302.82" stroke="#000" stroke-width="1.3"/>
<ellipse cx="293.64" cy="473.92" rx="4.1" ry="3.25" fill="#ff0000" stroke="#000" stroke-width="0.9"/>
<path d="M317.43 458.96V475.12M317.43 486.54V495.47" stroke="#000" stroke-width="0.8" stroke-dasharray="0.8 1.9" fill="none"/>
<path d="M312.58 458.96H322.28M312.58 495.47H322.28" stroke="#000" stroke-width="1" fill="none"/>
<rect x="308.21" y="475.62" width="18.45" height="10.42" fill="#0000ff" stroke="#000" stroke-width="1.15"/>
<path d="M308.11 480.41H326.76" stroke="#000" stroke-width="1.3"/>
<ellipse cx="317.43" cy="479.61" rx="4.1" ry="3.25" fill="#0000ff" stroke="#000" stroke-width="0.9"/>
<path d="M361.73 420.65V457.46M361.73 484.74V516.42" stroke="#000" stroke-width="0.8" stroke-dasharray="0.8 1.9" fill="none"/>
<path d="M356.88 420.65H366.58M356.88 516.42H366.58" stroke="#000" stroke-width="1" fill="none"/>
<rect x="352.5" y="457.96" width="18.45" height="26.28" fill="#ff0000" stroke="#000" stroke-width="1.15"/>
<path d="M352.4 472.92H371.05" stroke="#000" stroke-width="1.3"/>
<ellipse cx="361.73" cy="470.03" rx="4.1" ry="3.25" fill="#ff0000" stroke="#000" stroke-width="0.9"/>
<path d="M385.52 463.15V473.92M385.52 483.85V494.87" stroke="#000" stroke-width="0.8" stroke-dasharray="0.8 1.9" fill="none"/>
<path d="M380.67 463.15H390.37M380.67 494.87H390.37" stroke="#000" stroke-width="1" fill="none"/>
<rect x="376.44" y="474.42" width="18.15" height="8.93" fill="#0000ff" stroke="#000" stroke-width="1.15"/>
<path d="M376.34 479.21H394.69" stroke="#000" stroke-width="1.3"/>
<ellipse cx="385.52" cy="478.41" rx="4.1" ry="3.25" fill="#0000ff" stroke="#000" stroke-width="0.9"/>
<circle cx="385.52" cy="447.29" r="0.62" fill="#6a6a6a"/>
<path d="M429.96 444.59V468.83M429.96 485.94V502.65" stroke="#000" stroke-width="0.8" stroke-dasharray="0.8 1.9" fill="none"/>
<path d="M425.11 444.59H434.81M425.11 502.65H434.81" stroke="#000" stroke-width="1" fill="none"/>
<rect x="420.73" y="469.33" width="18.45" height="16.11" fill="#ff0000" stroke="#000" stroke-width="1.15"/>
<path d="M420.63 480.11H439.29" stroke="#000" stroke-width="1.3"/>
<ellipse cx="429.96" cy="473.92" rx="4.1" ry="3.25" fill="#ff0000" stroke="#000" stroke-width="0.9"/>
<circle cx="429.96" cy="409.88" r="0.62" fill="#6a6a6a"/>
<circle cx="429.96" cy="433.82" r="0.62" fill="#6a6a6a"/>
<path d="M453.75 454.77V469.73M453.75 482.95V494.27" stroke="#000" stroke-width="0.8" stroke-dasharray="0.8 1.9" fill="none"/>
<path d="M448.9 454.77H458.6M448.9 494.27H458.6" stroke="#000" stroke-width="1" fill="none"/>
<rect x="444.68" y="470.23" width="18.15" height="12.22" fill="#0000ff" stroke="#000" stroke-width="1.15"/>
<path d="M444.58 475.92H462.93" stroke="#000" stroke-width="1.3"/>
<ellipse cx="453.75" cy="474.22" rx="4.1" ry="3.25" fill="#0000ff" stroke="#000" stroke-width="0.9"/>
<polygon points="373.25,424.91 374.05,429.33 376.6,429.34 374.54,432.09 375.32,436.51 373.25,433.79 371.18,436.51 371.96,432.09 369.9,429.34 372.45,429.33" fill="#000" stroke="#000" stroke-width="0.4" stroke-linejoin="miter"/><circle cx="373.25" cy="431.32" r="0.6" fill="#ddd"/>
<path d="M497.89 426.34V455.07M497.89 481.75V516.42" stroke="#000" stroke-width="0.8" stroke-dasharray="0.8 1.9" fill="none"/>
<path d="M493.04 426.34H502.74M493.04 516.42H502.74" stroke="#000" stroke-width="1" fill="none"/>
<rect x="488.67" y="455.57" width="18.45" height="25.69" fill="#ff0000" stroke="#000" stroke-width="1.15"/>
<path d="M488.57 473.52H507.22" stroke="#000" stroke-width="1.3"/>
<ellipse cx="497.89" cy="466.44" rx="4.1" ry="3.25" fill="#ff0000" stroke="#000" stroke-width="0.9"/>
<circle cx="497.89" cy="413.47" r="0.62" fill="#6a6a6a"/>
<path d="M521.84 456.56V466.44M521.84 478.46V487.39" stroke="#000" stroke-width="0.8" stroke-dasharray="0.8 1.9" fill="none"/>
<path d="M516.99 456.56H526.69M516.99 487.39H526.69" stroke="#000" stroke-width="1" fill="none"/>
<rect x="512.61" y="466.94" width="18.45" height="11.02" fill="#0000ff" stroke="#000" stroke-width="1.15"/>
<path d="M512.51 473.22H531.16" stroke="#000" stroke-width="1.3"/>
<ellipse cx="521.84" cy="472.42" rx="4.1" ry="3.25" fill="#0000ff" stroke="#000" stroke-width="0.9"/>
<circle cx="521.84" cy="442.5" r="0.62" fill="#6a6a6a"/>
<path d="M565.98 425.14V459.56M565.98 483.55V516.42" stroke="#000" stroke-width="0.8" stroke-dasharray="0.8 1.9" fill="none"/>
<path d="M561.13 425.14H570.83M561.13 516.42H570.83" stroke="#000" stroke-width="1" fill="none"/>
<rect x="556.9" y="460.06" width="18.15" height="22.99" fill="#ff0000" stroke="#000" stroke-width="1.15"/>
<path d="M556.8 466.94H575.15" stroke="#000" stroke-width="1.3"/>
<ellipse cx="565.98" cy="466.74" rx="4.1" ry="3.25" fill="#ff0000" stroke="#000" stroke-width="0.9"/>
<circle cx="565.98" cy="422.45" r="0.62" fill="#6a6a6a"/>
<path d="M589.92 459.56V470.63M589.92 481.15V489.48" stroke="#000" stroke-width="0.8" stroke-dasharray="0.8 1.9" fill="none"/>
<path d="M585.07 459.56H594.77M585.07 489.48H594.77" stroke="#000" stroke-width="1" fill="none"/>
<rect x="580.84" y="471.13" width="18.15" height="9.53" fill="#0000ff" stroke="#000" stroke-width="1.15"/>
<path d="M580.74 476.51H599.1" stroke="#000" stroke-width="1.3"/>
<ellipse cx="589.92" cy="474.52" rx="4.1" ry="3.25" fill="#0000ff" stroke="#000" stroke-width="0.9"/>
<circle cx="589.92" cy="439.5" r="0.62" fill="#6a6a6a"/>
<circle cx="589.92" cy="445.79" r="0.62" fill="#6a6a6a"/>
<circle cx="589.92" cy="454.77" r="0.62" fill="#6a6a6a"/>
<path d="M634.21 428.73V457.46M634.21 479.06V495.17" stroke="#000" stroke-width="0.8" stroke-dasharray="0.8 1.9" fill="none"/>
<path d="M629.36 428.73H639.06M629.36 495.17H639.06" stroke="#000" stroke-width="1" fill="none"/>
<rect x="625.14" y="457.96" width="18.15" height="20.6" fill="#ff0000" stroke="#000" stroke-width="1.15"/>
<path d="M625.04 472.32H643.39" stroke="#000" stroke-width="1.3"/>
<ellipse cx="634.21" cy="468.53" rx="4.1" ry="3.25" fill="#ff0000" stroke="#000" stroke-width="0.9"/>
<circle cx="634.21" cy="422.75" r="0.62" fill="#6a6a6a"/>
<path d="M658 450.58V467.64M658 481.75V490.68" stroke="#000" stroke-width="0.8" stroke-dasharray="0.8 1.9" fill="none"/>
<path d="M653.15 450.58H662.85M653.15 490.68H662.85" stroke="#000" stroke-width="1" fill="none"/>
<rect x="648.78" y="468.14" width="18.45" height="13.12" fill="#0000ff" stroke="#000" stroke-width="1.15"/>
<path d="M648.68 474.42H667.33" stroke="#000" stroke-width="1.3"/>
<ellipse cx="658" cy="473.62" rx="4.1" ry="3.25" fill="#0000ff" stroke="#000" stroke-width="0.9"/>
<rect x="67.2" y="405" width="613.2" height="111.3" fill="none" stroke="#333" stroke-width="1"/>
<path d="M101.3 516.3v-5.5M101.3 405v5.5M169.4 516.3v-5.5M169.4 405v5.5M237.5 516.3v-5.5M237.5 405v5.5M305.6 516.3v-5.5M305.6 405v5.5M373.7 516.3v-5.5M373.7 405v5.5M441.8 516.3v-5.5M441.8 405v5.5M509.9 516.3v-5.5M509.9 405v5.5M578 516.3v-5.5M578 405v5.5M646.1 516.3v-5.5M646.1 405v5.5M67.2 405h6.2M680.4 405h-6.2M67.2 442.6h6.2M680.4 442.6h-6.2M67.2 479.4h6.2M680.4 479.4h-6.2M67.2 516.3h6.2M680.4 516.3h-6.2" stroke="#333" stroke-width="1" fill="none"/>
<text transform="translate(63.9 408.9) scale(1.2 1)" font-size="9" text-anchor="end" fill="#151515">600</text>
<text transform="translate(63.9 446.5) scale(1.2 1)" font-size="9" text-anchor="end" fill="#151515">400</text>
<text transform="translate(63.9 483.3) scale(1.2 1)" font-size="9" text-anchor="end" fill="#151515">200</text>
<text transform="translate(63.9 520.2) scale(1.2 1)" font-size="9" text-anchor="end" fill="#151515">0</text>
<text transform="translate(39.9 460.65) scale(1.2 1) rotate(-90)" font-size="9.9" text-anchor="middle" fill="#151515">|T3|</text>
<text transform="translate(12.9 409.1) scale(1.316 1)" font-family="'Liberation Serif',serif" font-size="13.3" text-anchor="middle" fill="#111">(D)</text>
</g>
<g id="pE">
<path d="M89.19 569.2V578.18M89.19 589.9V603.32" stroke="#000" stroke-width="0.8" stroke-dasharray="0.8 1.9" fill="none"/>
<path d="M84.34 569.2H94.04M84.34 603.32H94.04" stroke="#000" stroke-width="1" fill="none"/>
<rect x="79.97" y="578.68" width="18.45" height="10.72" fill="#ff0000" stroke="#000" stroke-width="1.15"/>
<path d="M79.87 582.87H98.52" stroke="#000" stroke-width="1.3"/>
<ellipse cx="89.19" cy="594.04" rx="4.1" ry="3.25" fill="#ff0000" stroke="#000" stroke-width="0.9"/>
<circle cx="89.19" cy="644.62" r="0.62" fill="#6a6a6a"/>
<path d="M113.14 572.8V575.49M113.14 584.52V591.35" stroke="#000" stroke-width="0.8" stroke-dasharray="0.8 1.9" fill="none"/>
<path d="M108.29 572.8H117.99M108.29 591.35H117.99" stroke="#000" stroke-width="1" fill="none"/>
<rect x="103.91" y="575.99" width="18.45" height="8.03" fill="#0000ff" stroke="#000" stroke-width="1.15"/>
<path d="M103.81 578.38H122.46" stroke="#000" stroke-width="1.3"/>
<ellipse cx="113.14" cy="580.58" rx="4.1" ry="3.25" fill="#0000ff" stroke="#000" stroke-width="0.9"/>
<circle cx="113.14" cy="627.26" r="0.62" fill="#6a6a6a"/>
<path d="M157.73 569.2V583.57M157.73 599.78V619.18" stroke="#000" stroke-width="0.8" stroke-dasharray="0.8 1.9" fill="none"/>
<path d="M152.88 569.2H162.58M152.88 619.18H162.58" stroke="#000" stroke-width="1" fill="none"/>
<rect x="148.8" y="584.07" width="17.85" height="15.21" fill="#ff0000" stroke="#000" stroke-width="1.15"/>
<path d="M148.7 586.46H166.75" stroke="#000" stroke-width="1.3"/>
<ellipse cx="157.73" cy="598.83" rx="4.1" ry="3.25" fill="#ff0000" stroke="#000" stroke-width="0.9"/>
<circle cx="157.73" cy="642.53" r="0.62" fill="#6a6a6a"/>
<circle cx="157.73" cy="646.12" r="0.62" fill="#6a6a6a"/>
<path d="M181.52 572.2V578.78M181.52 587.81V595.54" stroke="#000" stroke-width="0.8" stroke-dasharray="0.8 1.9" fill="none"/>
<path d="M176.67 572.2H186.37M176.67 595.54H186.37" stroke="#000" stroke-width="1" fill="none"/>
<rect x="172.44" y="579.28" width="18.15" height="8.03" fill="#0000ff" stroke="#000" stroke-width="1.15"/>
<path d="M172.34 582.87H190.69" stroke="#000" stroke-width="1.3"/>
<ellipse cx="181.52" cy="583.27" rx="4.1" ry="3.25" fill="#0000ff" stroke="#000" stroke-width="0.9"/>
<circle cx="181.52" cy="601.82" r="0.62" fill="#6a6a6a"/>
<path d="M225.96 569.2V578.18M225.96 591.7V608.41" stroke="#000" stroke-width="0.8" stroke-dasharray="0.8 1.9" fill="none"/>
<path d="M221.11 569.2H230.81M221.11 608.41H230.81" stroke="#000" stroke-width="1" fill="none"/>
<rect x="216.73" y="578.68" width="18.45" height="12.52" fill="#ff0000" stroke="#000" stroke-width="1.15"/>
<path d="M216.63 582.87H235.29" stroke="#000" stroke-width="1.3"/>
<ellipse cx="225.96" cy="590.75" rx="4.1" ry="3.25" fill="#ff0000" stroke="#000" stroke-width="0.9"/>
<circle cx="225.96" cy="616.19" r="0.62" fill="#6a6a6a"/>
<circle cx="225.96" cy="626.36" r="0.62" fill="#6a6a6a"/>
<path d="M249.75 573.39V577.28M249.75 587.81V599.73" stroke="#000" stroke-width="0.8" stroke-dasharray="0.8 1.9" fill="none"/>
<path d="M244.9 573.39H254.6M244.9 599.73H254.6" stroke="#000" stroke-width="1" fill="none"/>
<rect x="240.68" y="577.78" width="18.15" height="9.53" fill="#0000ff" stroke="#000" stroke-width="1.15"/>
<path d="M240.58 581.97H258.93" stroke="#000" stroke-width="1.3"/>
<ellipse cx="249.75" cy="583.87" rx="4.1" ry="3.25" fill="#0000ff" stroke="#000" stroke-width="0.9"/>
<circle cx="249.75" cy="604.22" r="0.62" fill="#6a6a6a"/>
<circle cx="249.75" cy="637.14" r="0.62" fill="#6a6a6a"/>
<polygon points="102.01,555.31 102.81,559.73 105.36,559.74 103.3,562.49 104.08,566.91 102.01,564.19 99.94,566.91 100.72,562.49 98.66,559.74 101.22,559.73" fill="#000" stroke="#000" stroke-width="0.4" stroke-linejoin="miter"/><circle cx="102.01" cy="561.72" r="0.6" fill="#ddd"/>
<polygon points="164.56,557.71 165.36,562.12 167.91,562.14 165.85,564.88 166.63,569.31 164.56,566.59 162.49,569.31 163.27,564.88 161.21,562.14 163.76,562.12" fill="#000" stroke="#000" stroke-width="0.4" stroke-linejoin="miter"/><circle cx="164.56" cy="564.12" r="0.6" fill="#ddd"/>
<polygon points="176.23,557.71 177.03,562.12 179.58,562.14 177.52,564.88 178.3,569.31 176.23,566.59 174.16,569.31 174.94,564.88 172.88,562.14 175.44,562.12" fill="#000" stroke="#000" stroke-width="0.4" stroke-linejoin="miter"/><circle cx="176.23" cy="564.12" r="0.6" fill="#ddd"/>
<path d="M293.94 569.2V576.99M293.94 596.79V610.5" stroke="#000" stroke-width="0.8" stroke-dasharray="0.8 1.9" fill="none"/>
<path d="M289.09 569.2H298.79M289.09 610.5H298.79" stroke="#000" stroke-width="1" fill="none"/>
<rect x="284.86" y="577.49" width="18.15" height="18.8" fill="#ff0000" stroke="#000" stroke-width="1.15"/>
<path d="M284.76 586.46H303.12" stroke="#000" stroke-width="1.3"/>
<ellipse cx="293.94" cy="592.85" rx="4.1" ry="3.25" fill="#ff0000" stroke="#000" stroke-width="0.9"/>
<circle cx="293.94" cy="635.94" r="0.62" fill="#6a6a6a"/>
<path d="M318.03 572.8V575.79M318.03 582.72V588.06" stroke="#000" stroke-width="0.8" stroke-dasharray="0.8 1.9" fill="none"/>
<path d="M313.18 572.8H322.88M313.18 588.06H322.88" stroke="#000" stroke-width="1" fill="none"/>
<rect x="308.81" y="576.29" width="18.45" height="5.93" fill="#0000ff" stroke="#000" stroke-width="1.15"/>
<path d="M308.71 578.68H327.36" stroke="#000" stroke-width="1.3"/>
<ellipse cx="318.03" cy="579.68" rx="4.1" ry="3.25" fill="#0000ff" stroke="#000" stroke-width="0.9"/>
<circle cx="318.03" cy="592.85" r="0.62" fill="#6a6a6a"/>
<circle cx="318.03" cy="601.23" r="0.62" fill="#6a6a6a"/>
<path d="M362.32 569.2V578.78M362.32 592.9V603.02" stroke="#000" stroke-width="0.8" stroke-dasharray="0.8 1.9" fill="none"/>
<path d="M357.47 569.2H367.17M357.47 603.02H367.17" stroke="#000" stroke-width="1" fill="none"/>
<rect x="353.1" y="579.28" width="18.45" height="13.12" fill="#ff0000" stroke="#000" stroke-width="1.15"/>
<path d="M353 585.27H371.65" stroke="#000" stroke-width="1.3"/>
<ellipse cx="362.32" cy="593.45" rx="4.1" ry="3.25" fill="#ff0000" stroke="#000" stroke-width="0.9"/>
<circle cx="362.32" cy="617.39" r="0.62" fill="#6a6a6a"/>
<path d="M386.27 573.09V575.49M386.27 582.12V586.86" stroke="#000" stroke-width="0.8" stroke-dasharray="0.8 1.9" fill="none"/>
<path d="M381.42 573.09H391.12M381.42 586.86H391.12" stroke="#000" stroke-width="1" fill="none"/>
<rect x="377.04" y="575.99" width="18.45" height="5.63" fill="#0000ff" stroke="#000" stroke-width="1.15"/>
<path d="M376.94 578.08H395.59" stroke="#000" stroke-width="1.3"/>
<ellipse cx="386.27" cy="579.68" rx="4.1" ry="3.25" fill="#0000ff" stroke="#000" stroke-width="0.9"/>
<circle cx="386.27" cy="592.25" r="0.62" fill="#6a6a6a"/>
<circle cx="386.27" cy="596.44" r="0.62" fill="#6a6a6a"/>
<path d="M430.56 569.2V576.99M430.56 595.89V605.72" stroke="#000" stroke-width="0.8" stroke-dasharray="0.8 1.9" fill="none"/>
<path d="M425.71 569.2H435.41M425.71 605.72H435.41" stroke="#000" stroke-width="1" fill="none"/>
<rect x="421.33" y="577.49" width="18.45" height="17.9" fill="#ff0000" stroke="#000" stroke-width="1.15"/>
<path d="M421.23 584.37H439.88" stroke="#000" stroke-width="1.3"/>
<ellipse cx="430.56" cy="592.55" rx="4.1" ry="3.25" fill="#ff0000" stroke="#000" stroke-width="0.9"/>
<circle cx="430.56" cy="646.12" r="0.62" fill="#6a6a6a"/>
<path d="M454.5 573.39V575.49M454.5 581.82V589.55" stroke="#000" stroke-width="0.8" stroke-dasharray="0.8 1.9" fill="none"/>
<path d="M449.65 573.39H459.35M449.65 589.55H459.35" stroke="#000" stroke-width="1" fill="none"/>
<rect x="445.27" y="575.99" width="18.45" height="5.34" fill="#0000ff" stroke="#000" stroke-width="1.15"/>
<path d="M445.17 578.08H463.83" stroke="#000" stroke-width="1.3"/>
<ellipse cx="454.5" cy="579.08" rx="4.1" ry="3.25" fill="#0000ff" stroke="#000" stroke-width="0.9"/>
<polygon points="300.03,557.41 300.83,561.82 303.38,561.84 301.32,564.58 302.1,569.01 300.03,566.29 297.96,569.01 298.74,564.58 296.68,561.84 299.23,561.82" fill="#000" stroke="#000" stroke-width="0.4" stroke-linejoin="miter"/><circle cx="300.03" cy="563.82" r="0.6" fill="#ddd"/>
<polygon points="312,557.41 312.8,561.82 315.35,561.84 313.29,564.58 314.07,569.01 312,566.29 309.93,569.01 310.71,564.58 308.65,561.84 311.2,561.82" fill="#000" stroke="#000" stroke-width="0.4" stroke-linejoin="miter"/><circle cx="312" cy="563.82" r="0.6" fill="#ddd"/>
<polygon points="368.56,557.41 369.36,561.82 371.91,561.84 369.85,564.58 370.63,569.01 368.56,566.29 366.49,569.01 367.27,564.58 365.21,561.84 367.76,561.82" fill="#000" stroke="#000" stroke-width="0.4" stroke-linejoin="miter"/><circle cx="368.56" cy="563.82" r="0.6" fill="#ddd"/>
<polygon points="380.53,557.41 381.33,561.82 383.88,561.84 381.82,564.58 382.6,569.01 380.53,566.29 378.46,569.01 379.24,564.58 377.18,561.84 379.73,561.82" fill="#000" stroke="#000" stroke-width="0.4" stroke-linejoin="miter"/><circle cx="380.53" cy="563.82" r="0.6" fill="#ddd"/>
<polygon points="435.9,557.41 436.69,561.82 439.25,561.84 437.19,564.58 437.97,569.01 435.9,566.29 433.83,569.01 434.61,564.58 432.55,561.84 435.1,561.82" fill="#000" stroke="#000" stroke-width="0.4" stroke-linejoin="miter"/><circle cx="435.9" cy="563.82" r="0.6" fill="#ddd"/>
<polygon points="447.87,557.41 448.67,561.82 451.22,561.84 449.16,564.58 449.94,569.01 447.87,566.29 445.8,569.01 446.58,564.58 444.52,561.84 447.07,561.82" fill="#000" stroke="#000" stroke-width="0.4" stroke-linejoin="miter"/><circle cx="447.87" cy="563.82" r="0.6" fill="#ddd"/>
<path d="M498.94 569.2V580.58M498.94 603.97V634.15" stroke="#000" stroke-width="0.8" stroke-dasharray="0.8 1.9" fill="none"/>
<path d="M494.09 569.2H503.79M494.09 634.15H503.79" stroke="#000" stroke-width="1" fill="none"/>
<rect x="489.86" y="581.08" width="18.15" height="22.39" fill="#ff0000" stroke="#000" stroke-width="1.15"/>
<path d="M489.76 587.66H508.12" stroke="#000" stroke-width="1.3"/>
<ellipse cx="498.94" cy="602.42" rx="4.1" ry="3.25" fill="#ff0000" stroke="#000" stroke-width="0.9"/>
<path d="M522.88 572.8V575.19M522.88 584.82V591.05" stroke="#000" stroke-width="0.8" stroke-dasharray="0.8 1.9" fill="none"/>
<path d="M518.03 572.8H527.73M518.03 591.05H527.73" stroke="#000" stroke-width="1" fill="none"/>
<rect x="513.81" y="575.69" width="18.15" height="8.63" fill="#0000ff" stroke="#000" stroke-width="1.15"/>
<path d="M513.71 578.38H532.06" stroke="#000" stroke-width="1.3"/>
<ellipse cx="522.88" cy="582.07" rx="4.1" ry="3.25" fill="#0000ff" stroke="#000" stroke-width="0.9"/>
<circle cx="522.88" cy="621.28" r="0.62" fill="#6a6a6a"/>
<circle cx="522.88" cy="629.96" r="0.62" fill="#6a6a6a"/>
<path d="M567.18 569.2V579.98M567.18 595.89V610.2" stroke="#000" stroke-width="0.8" stroke-dasharray="0.8 1.9" fill="none"/>
<path d="M562.33 569.2H572.03M562.33 610.2H572.03" stroke="#000" stroke-width="1" fill="none"/>
<rect x="558.1" y="580.48" width="18.15" height="14.91" fill="#ff0000" stroke="#000" stroke-width="1.15"/>
<path d="M558 585.86H576.35" stroke="#000" stroke-width="1.3"/>
<ellipse cx="567.18" cy="600.93" rx="4.1" ry="3.25" fill="#ff0000" stroke="#000" stroke-width="0.9"/>
<circle cx="567.18" cy="621.88" r="0.62" fill="#6a6a6a"/>
<circle cx="567.18" cy="634.15" r="0.62" fill="#6a6a6a"/>
<circle cx="567.18" cy="638.34" r="0.62" fill="#6a6a6a"/>
<circle cx="567.18" cy="643.42" r="0.62" fill="#6a6a6a"/>
<path d="M591.12 572.2V573.99M591.12 580.63V585.96" stroke="#000" stroke-width="0.8" stroke-dasharray="0.8 1.9" fill="none"/>
<path d="M586.27 572.2H595.97M586.27 585.96H595.97" stroke="#000" stroke-width="1" fill="none"/>
<rect x="582.04" y="574.49" width="18.15" height="5.63" fill="#0000ff" stroke="#000" stroke-width="1.15"/>
<path d="M581.94 576.89H600.29" stroke="#000" stroke-width="1.3"/>
<ellipse cx="591.12" cy="577.88" rx="4.1" ry="3.25" fill="#0000ff" stroke="#000" stroke-width="0.9"/>
<circle cx="591.12" cy="589.26" r="0.62" fill="#6a6a6a"/>
<path d="M635.26 569.2V582.37M635.26 605.77V619.18" stroke="#000" stroke-width="0.8" stroke-dasharray="0.8 1.9" fill="none"/>
<path d="M630.41 569.2H640.11M630.41 619.18H640.11" stroke="#000" stroke-width="1" fill="none"/>
<rect x="626.03" y="582.87" width="18.45" height="22.39" fill="#ff0000" stroke="#000" stroke-width="1.15"/>
<path d="M625.93 589.75H644.59" stroke="#000" stroke-width="1.3"/>
<ellipse cx="635.26" cy="604.22" rx="4.1" ry="3.25" fill="#ff0000" stroke="#000" stroke-width="0.9"/>
<path d="M659.2 572.8V575.19M659.2 581.82V585.96" stroke="#000" stroke-width="0.8" stroke-dasharray="0.8 1.9" fill="none"/>
<path d="M654.35 572.8H664.05M654.35 585.96H664.05" stroke="#000" stroke-width="1" fill="none"/>
<rect x="649.97" y="575.69" width="18.45" height="5.63" fill="#0000ff" stroke="#000" stroke-width="1.15"/>
<path d="M649.87 578.08H668.53" stroke="#000" stroke-width="1.3"/>
<ellipse cx="659.2" cy="578.48" rx="4.1" ry="3.25" fill="#0000ff" stroke="#000" stroke-width="0.9"/>
<circle cx="659.2" cy="593.45" r="0.62" fill="#6a6a6a"/>
<polygon points="505.03,557.41 505.83,561.82 508.38,561.84 506.32,564.58 507.1,569.01 505.03,566.29 502.96,569.01 503.74,564.58 501.68,561.84 504.23,561.82" fill="#000" stroke="#000" stroke-width="0.4" stroke-linejoin="miter"/><circle cx="505.03" cy="563.82" r="0.6" fill="#ddd"/>
<polygon points="517,557.41 517.8,561.82 520.35,561.84 518.29,564.58 519.07,569.01 517,566.29 514.93,569.01 515.71,564.58 513.65,561.84 516.2,561.82" fill="#000" stroke="#000" stroke-width="0.4" stroke-linejoin="miter"/><circle cx="517" cy="563.82" r="0.6" fill="#ddd"/>
<polygon points="572.96,557.41 573.76,561.82 576.31,561.84 574.25,564.58 575.03,569.01 572.96,566.29 570.89,569.01 571.67,564.58 569.61,561.84 572.17,561.82" fill="#000" stroke="#000" stroke-width="0.4" stroke-linejoin="miter"/><circle cx="572.96" cy="563.82" r="0.6" fill="#ddd"/>
<polygon points="584.93,557.41 585.73,561.82 588.28,561.84 586.22,564.58 587,569.01 584.93,566.29 582.86,569.01 583.64,564.58 581.58,561.84 584.14,561.82" fill="#000" stroke="#000" stroke-width="0.4" stroke-linejoin="miter"/><circle cx="584.93" cy="563.82" r="0.6" fill="#ddd"/>
<polygon points="641.79,557.41 642.59,561.82 645.15,561.84 643.08,564.58 643.87,569.01 641.79,566.29 639.72,569.01 640.51,564.58 638.44,561.84 641,561.82" fill="#000" stroke="#000" stroke-width="0.4" stroke-linejoin="miter"/><circle cx="641.79" cy="563.82" r="0.6" fill="#ddd"/>
<polygon points="653.77,557.41 654.56,561.82 657.12,561.84 655.06,564.58 655.84,569.01 653.77,566.29 651.7,569.01 652.48,564.58 650.42,561.84 652.97,561.82" fill="#000" stroke="#000" stroke-width="0.4" stroke-linejoin="miter"/><circle cx="653.77" cy="563.82" r="0.6" fill="#ddd"/>
<rect x="67.2" y="540.7" width="613.2" height="106.5" fill="none" stroke="#333" stroke-width="1"/>
<path d="M101.9 647.2v-5.5M101.9 540.7v5.5M170.1 647.2v-5.5M170.1 540.7v5.5M238.3 647.2v-5.5M238.3 540.7v5.5M306.5 647.2v-5.5M306.5 540.7v5.5M374.7 647.2v-5.5M374.7 540.7v5.5M442.9 647.2v-5.5M442.9 540.7v5.5M511.1 647.2v-5.5M511.1 540.7v5.5M579.3 647.2v-5.5M579.3 540.7v5.5M647.5 647.2v-5.5M647.5 540.7v5.5M67.2 570.5h6.2M680.4 570.5h-6.2M67.2 602.2h6.2M680.4 602.2h-6.2M67.2 633.5h6.2M680.4 633.5h-6.2" stroke="#333" stroke-width="1" fill="none"/>
<text transform="translate(63.9 574.4) scale(1.2 1)" font-size="9" text-anchor="end" fill="#151515">0</text>
<text transform="translate(63.9 606.1) scale(1.2 1)" font-size="9" text-anchor="end" fill="#151515">-5</text>
<text transform="translate(63.9 637.4) scale(1.2 1)" font-size="9" text-anchor="end" fill="#151515">-10</text>
<text transform="translate(41.6 593.95) scale(1.2 1) rotate(-90)" font-size="9.9" text-anchor="middle" fill="#151515">Un</text>
<text transform="translate(12.9 542.5) scale(1.316 1)" font-family="'Liberation Serif',serif" font-size="13.3" text-anchor="middle" fill="#111">(E)</text>
</g>
<g id="pF">
<path d="M90.39 718.46V731.63M90.39 742.4V753.48" stroke="#000" stroke-width="0.8" stroke-dasharray="0.8 1.9" fill="none"/>
<path d="M85.54 718.46H95.24M85.54 753.48H95.24" stroke="#000" stroke-width="1" fill="none"/>
<rect x="81.16" y="732.13" width="18.45" height="9.77" fill="#ff0000" stroke="#000" stroke-width="1.15"/>
<path d="M81.06 736.72H99.72" stroke="#000" stroke-width="1.3"/>
<ellipse cx="90.39" cy="736.72" rx="4.1" ry="3.25" fill="#ff0000" stroke="#000" stroke-width="0.9"/>
<path d="M114.18 727.44V736.42M114.18 743.6V752.58" stroke="#000" stroke-width="0.8" stroke-dasharray="0.8 1.9" fill="none"/>
<path d="M109.33 727.44H119.03M109.33 752.58H119.03" stroke="#000" stroke-width="1" fill="none"/>
<rect x="105.11" y="736.92" width="18.15" height="6.18" fill="#0000ff" stroke="#000" stroke-width="1.15"/>
<path d="M105.01 739.71H123.36" stroke="#000" stroke-width="1.3"/>
<ellipse cx="114.18" cy="739.71" rx="4.1" ry="3.25" fill="#0000ff" stroke="#000" stroke-width="0.9"/>
<circle cx="114.18" cy="717.56" r="0.62" fill="#6a6a6a"/>
<circle cx="114.18" cy="724.75" r="0.62" fill="#6a6a6a"/>
<circle cx="114.18" cy="754.67" r="0.62" fill="#6a6a6a"/>
<path d="M158.47 713.07V729.53M158.47 744.8V759.76" stroke="#000" stroke-width="0.8" stroke-dasharray="0.8 1.9" fill="none"/>
<path d="M153.62 713.07H163.32M153.62 759.76H163.32" stroke="#000" stroke-width="1" fill="none"/>
<rect x="149.4" y="730.03" width="18.15" height="14.26" fill="#ff0000" stroke="#000" stroke-width="1.15"/>
<path d="M149.3 739.41H167.65" stroke="#000" stroke-width="1.3"/>
<ellipse cx="158.47" cy="737.31" rx="4.1" ry="3.25" fill="#ff0000" stroke="#000" stroke-width="0.9"/>
<path d="M182.42 727.44V735.52M182.42 746.29V754.97" stroke="#000" stroke-width="0.8" stroke-dasharray="0.8 1.9" fill="none"/>
<path d="M177.57 727.44H187.27M177.57 754.97H187.27" stroke="#000" stroke-width="1" fill="none"/>
<rect x="173.34" y="736.02" width="18.15" height="9.77" fill="#0000ff" stroke="#000" stroke-width="1.15"/>
<path d="M173.24 740.01H191.59" stroke="#000" stroke-width="1.3"/>
<ellipse cx="182.42" cy="740.31" rx="4.1" ry="3.25" fill="#0000ff" stroke="#000" stroke-width="0.9"/>
<circle cx="182.42" cy="717.56" r="0.62" fill="#6a6a6a"/>
<path d="M226.56 725.64V732.53M226.56 747.79V759.16" stroke="#000" stroke-width="0.8" stroke-dasharray="0.8 1.9" fill="none"/>
<path d="M221.71 725.64H231.41M221.71 759.16H231.41" stroke="#000" stroke-width="1" fill="none"/>
<rect x="217.33" y="733.03" width="18.45" height="14.26" fill="#ff0000" stroke="#000" stroke-width="1.15"/>
<path d="M217.23 739.41H235.88" stroke="#000" stroke-width="1.3"/>
<ellipse cx="226.56" cy="738.51" rx="4.1" ry="3.25" fill="#ff0000" stroke="#000" stroke-width="0.9"/>
<circle cx="226.56" cy="694.82" r="0.62" fill="#6a6a6a"/>
<circle cx="226.56" cy="698.41" r="0.62" fill="#6a6a6a"/>
<path d="M250.5 713.37V730.13M250.5 741.5V754.37" stroke="#000" stroke-width="0.8" stroke-dasharray="0.8 1.9" fill="none"/>
<path d="M245.65 713.37H255.35M245.65 754.37H255.35" stroke="#000" stroke-width="1" fill="none"/>
<rect x="241.27" y="730.63" width="18.45" height="10.37" fill="#0000ff" stroke="#000" stroke-width="1.15"/>
<path d="M241.17 733.42H259.83" stroke="#000" stroke-width="1.3"/>
<ellipse cx="250.5" cy="735.52" rx="4.1" ry="3.25" fill="#0000ff" stroke="#000" stroke-width="0.9"/>
<circle cx="250.5" cy="706.49" r="0.62" fill="#6a6a6a"/>
<path d="M294.69 713.67V726.54M294.69 741.21V760.66" stroke="#000" stroke-width="0.8" stroke-dasharray="0.8 1.9" fill="none"/>
<path d="M289.84 713.67H299.54M289.84 760.66H299.54" stroke="#000" stroke-width="1" fill="none"/>
<rect x="285.46" y="727.04" width="18.45" height="13.66" fill="#ff0000" stroke="#000" stroke-width="1.15"/>
<path d="M285.36 737.02H304.02" stroke="#000" stroke-width="1.3"/>
<ellipse cx="294.69" cy="735.22" rx="4.1" ry="3.25" fill="#ff0000" stroke="#000" stroke-width="0.9"/>
<circle cx="294.69" cy="699.61" r="0.62" fill="#6a6a6a"/>
<path d="M318.48 712.18V730.13M318.48 745.99V754.37" stroke="#000" stroke-width="0.8" stroke-dasharray="0.8 1.9" fill="none"/>
<path d="M313.63 712.18H323.33M313.63 754.37H323.33" stroke="#000" stroke-width="1" fill="none"/>
<rect x="309.41" y="730.63" width="18.15" height="14.86" fill="#0000ff" stroke="#000" stroke-width="1.15"/>
<path d="M309.31 738.51H327.66" stroke="#000" stroke-width="1.3"/>
<ellipse cx="318.48" cy="737.31" rx="4.1" ry="3.25" fill="#0000ff" stroke="#000" stroke-width="0.9"/>
<path d="M362.77 715.77V734.62M362.77 748.99V762.45" stroke="#000" stroke-width="0.8" stroke-dasharray="0.8 1.9" fill="none"/>
<path d="M357.92 715.77H367.62M357.92 762.45H367.62" stroke="#000" stroke-width="1" fill="none"/>
<rect x="353.7" y="735.12" width="18.15" height="13.36" fill="#ff0000" stroke="#000" stroke-width="1.15"/>
<path d="M353.6 742.1H371.95" stroke="#000" stroke-width="1.3"/>
<ellipse cx="362.77" cy="740.01" rx="4.1" ry="3.25" fill="#ff0000" stroke="#000" stroke-width="0.9"/>
<circle cx="362.77" cy="680.45" r="0.62" fill="#6a6a6a"/>
<path d="M386.72 721.15V733.12M386.72 742.7V752.58" stroke="#000" stroke-width="0.8" stroke-dasharray="0.8 1.9" fill="none"/>
<path d="M381.87 721.15H391.57M381.87 752.58H391.57" stroke="#000" stroke-width="1" fill="none"/>
<rect x="377.64" y="733.62" width="18.15" height="8.58" fill="#0000ff" stroke="#000" stroke-width="1.15"/>
<path d="M377.54 738.21H395.89" stroke="#000" stroke-width="1.3"/>
<ellipse cx="386.72" cy="737.91" rx="4.1" ry="3.25" fill="#0000ff" stroke="#000" stroke-width="0.9"/>
<circle cx="386.72" cy="715.47" r="0.62" fill="#6a6a6a"/>
<path d="M430.86 712.48V731.63M430.86 743.9V759.46" stroke="#000" stroke-width="0.8" stroke-dasharray="0.8 1.9" fill="none"/>
<path d="M426.01 712.48H435.71M426.01 759.46H435.71" stroke="#000" stroke-width="1" fill="none"/>
<rect x="421.63" y="732.13" width="18.45" height="11.27" fill="#ff0000" stroke="#000" stroke-width="1.15"/>
<path d="M421.53 736.72H440.18" stroke="#000" stroke-width="1.3"/>
<ellipse cx="430.86" cy="736.12" rx="4.1" ry="3.25" fill="#ff0000" stroke="#000" stroke-width="0.9"/>
<circle cx="430.86" cy="695.42" r="0.62" fill="#6a6a6a"/>
<circle cx="430.86" cy="706.79" r="0.62" fill="#6a6a6a"/>
<circle cx="430.86" cy="765.75" r="0.62" fill="#6a6a6a"/>
<path d="M454.8 727.14V736.72M454.8 745.69V755.57" stroke="#000" stroke-width="0.8" stroke-dasharray="0.8 1.9" fill="none"/>
<path d="M449.95 727.14H459.65M449.95 755.57H459.65" stroke="#000" stroke-width="1" fill="none"/>
<rect x="445.57" y="737.22" width="18.45" height="7.98" fill="#0000ff" stroke="#000" stroke-width="1.15"/>
<path d="M445.47 741.8H464.13" stroke="#000" stroke-width="1.3"/>
<ellipse cx="454.8" cy="741.5" rx="4.1" ry="3.25" fill="#0000ff" stroke="#000" stroke-width="0.9"/>
<circle cx="454.8" cy="722.95" r="0.62" fill="#6a6a6a"/>
<polygon points="442.68,695.09 443.48,699.51 446.03,699.52 443.97,702.27 444.75,706.69 442.68,703.97 440.61,706.69 441.39,702.27 439.33,699.52 441.88,699.51" fill="#000" stroke="#000" stroke-width="0.4" stroke-linejoin="miter"/><circle cx="442.68" cy="701.5" r="0.6" fill="#ddd"/>
<path d="M499.09 717.56V732.53M499.09 744.8V760.66" stroke="#000" stroke-width="0.8" stroke-dasharray="0.8 1.9" fill="none"/>
<path d="M494.24 717.56H503.94M494.24 760.66H503.94" stroke="#000" stroke-width="1" fill="none"/>
<rect x="489.86" y="733.03" width="18.45" height="11.27" fill="#ff0000" stroke="#000" stroke-width="1.15"/>
<path d="M489.76 739.41H508.42" stroke="#000" stroke-width="1.3"/>
<ellipse cx="499.09" cy="739.11" rx="4.1" ry="3.25" fill="#ff0000" stroke="#000" stroke-width="0.9"/>
<circle cx="499.09" cy="707.69" r="0.62" fill="#6a6a6a"/>
<circle cx="499.09" cy="766.64" r="0.62" fill="#6a6a6a"/>
<path d="M522.88 729.23V738.51M522.88 747.19V754.67" stroke="#000" stroke-width="0.8" stroke-dasharray="0.8 1.9" fill="none"/>
<path d="M518.03 729.23H527.73M518.03 754.67H527.73" stroke="#000" stroke-width="1" fill="none"/>
<rect x="513.81" y="739.01" width="18.15" height="7.68" fill="#0000ff" stroke="#000" stroke-width="1.15"/>
<path d="M513.71 742.4H532.06" stroke="#000" stroke-width="1.3"/>
<ellipse cx="522.88" cy="742.1" rx="4.1" ry="3.25" fill="#0000ff" stroke="#000" stroke-width="0.9"/>
<circle cx="522.88" cy="710.08" r="0.62" fill="#6a6a6a"/>
<circle cx="522.88" cy="723.55" r="0.62" fill="#6a6a6a"/>
<path d="M567.18 722.35V734.92M567.18 750.48V760.36" stroke="#000" stroke-width="0.8" stroke-dasharray="0.8 1.9" fill="none"/>
<path d="M562.33 722.35H572.03M562.33 760.36H572.03" stroke="#000" stroke-width="1" fill="none"/>
<rect x="558.1" y="735.42" width="18.15" height="14.56" fill="#ff0000" stroke="#000" stroke-width="1.15"/>
<path d="M558 742.1H576.35" stroke="#000" stroke-width="1.3"/>
<ellipse cx="567.18" cy="740.01" rx="4.1" ry="3.25" fill="#ff0000" stroke="#000" stroke-width="0.9"/>
<circle cx="567.18" cy="690.33" r="0.62" fill="#6a6a6a"/>
<circle cx="567.18" cy="707.69" r="0.62" fill="#6a6a6a"/>
<path d="M591.12 728.64V738.81M591.12 745.69V754.67" stroke="#000" stroke-width="0.8" stroke-dasharray="0.8 1.9" fill="none"/>
<path d="M586.27 728.64H595.97M586.27 754.67H595.97" stroke="#000" stroke-width="1" fill="none"/>
<rect x="582.04" y="739.31" width="18.15" height="5.88" fill="#0000ff" stroke="#000" stroke-width="1.15"/>
<path d="M581.94 742.1H600.29" stroke="#000" stroke-width="1.3"/>
<ellipse cx="591.12" cy="742.1" rx="4.1" ry="3.25" fill="#0000ff" stroke="#000" stroke-width="0.9"/>
<path d="M635.11 719.96V732.53M635.11 743V757.66" stroke="#000" stroke-width="0.8" stroke-dasharray="0.8 1.9" fill="none"/>
<path d="M630.26 719.96H639.96M630.26 757.66H639.96" stroke="#000" stroke-width="1" fill="none"/>
<rect x="626.03" y="733.03" width="18.15" height="9.47" fill="#ff0000" stroke="#000" stroke-width="1.15"/>
<path d="M625.93 738.21H644.29" stroke="#000" stroke-width="1.3"/>
<ellipse cx="635.11" cy="737.61" rx="4.1" ry="3.25" fill="#ff0000" stroke="#000" stroke-width="0.9"/>
<circle cx="635.11" cy="704.69" r="0.62" fill="#6a6a6a"/>
<circle cx="635.11" cy="716.07" r="0.62" fill="#6a6a6a"/>
<circle cx="635.11" cy="764.55" r="0.62" fill="#6a6a6a"/>
<path d="M659.05 729.53V738.51M659.05 748.99V756.77" stroke="#000" stroke-width="0.8" stroke-dasharray="0.8 1.9" fill="none"/>
<path d="M654.2 729.53H663.9M654.2 756.77H663.9" stroke="#000" stroke-width="1" fill="none"/>
<rect x="649.97" y="739.01" width="18.15" height="9.47" fill="#0000ff" stroke="#000" stroke-width="1.15"/>
<path d="M649.87 743.6H668.23" stroke="#000" stroke-width="1.3"/>
<ellipse cx="659.05" cy="743" rx="4.1" ry="3.25" fill="#0000ff" stroke="#000" stroke-width="0.9"/>
<circle cx="659.05" cy="718.16" r="0.62" fill="#6a6a6a"/>
<polygon points="646.48,694.49 647.28,698.91 649.83,698.92 647.77,701.67 648.55,706.09 646.48,703.37 644.41,706.09 645.19,701.67 643.13,698.92 645.68,698.91" fill="#000" stroke="#000" stroke-width="0.4" stroke-linejoin="miter"/><circle cx="646.48" cy="700.9" r="0.6" fill="#ddd"/>
<rect x="68.2" y="666.3" width="613.2" height="111.9" fill="none" stroke="#333" stroke-width="1"/>
<path d="M102.7 778.2v-5.5M102.7 666.3v5.5M170.8 778.2v-5.5M170.8 666.3v5.5M238.9 778.2v-5.5M238.9 666.3v5.5M307 778.2v-5.5M307 666.3v5.5M375.1 778.2v-5.5M375.1 666.3v5.5M443.2 778.2v-5.5M443.2 666.3v5.5M511.3 778.2v-5.5M511.3 666.3v5.5M579.4 778.2v-5.5M579.4 666.3v5.5M647.5 778.2v-5.5M647.5 666.3v5.5M68.2 666.3h6.2M681.4 666.3h-6.2M68.2 694.5h6.2M681.4 694.5h-6.2M68.2 722.4h6.2M681.4 722.4h-6.2M68.2 750.4h6.2M681.4 750.4h-6.2M68.2 778.2h6.2M681.4 778.2h-6.2" stroke="#333" stroke-width="1" fill="none"/>
<text transform="translate(64.9 670.2) scale(1.2 1)" font-size="9" text-anchor="end" fill="#151515">2</text>
<text transform="translate(64.9 698.4) scale(1.2 1)" font-size="9" text-anchor="end" fill="#151515">1.5</text>
<text transform="translate(64.9 726.3) scale(1.2 1)" font-size="9" text-anchor="end" fill="#151515">1</text>
<text transform="translate(64.9 754.3) scale(1.2 1)" font-size="9" text-anchor="end" fill="#151515">0.5</text>
<text transform="translate(64.9 782.1) scale(1.2 1)" font-size="9" text-anchor="end" fill="#151515">0</text>
<text transform="translate(43.4 722.25) scale(1.2 1) rotate(-90)" font-size="9.9" text-anchor="middle" fill="#151515">TMH_n</text>
<text transform="translate(12.9 670.8) scale(1.316 1)" font-family="'Liberation Serif',serif" font-size="13.3" text-anchor="middle" fill="#111">(F)</text>
</g>
<g id="pG">
<path d="M90.99 847.66V856.64M90.99 868.96V873.1" stroke="#000" stroke-width="0.8" stroke-dasharray="0.8 1.9" fill="none"/>
<path d="M86.14 847.66H95.84M86.14 873.1H95.84" stroke="#000" stroke-width="1" fill="none"/>
<rect x="81.76" y="857.14" width="18.45" height="11.32" fill="#ff0000" stroke="#000" stroke-width="1.15"/>
<path d="M81.66 861.63H100.32" stroke="#000" stroke-width="1.3"/>
<ellipse cx="90.99" cy="859.04" rx="4.1" ry="3.25" fill="#ff0000" stroke="#000" stroke-width="0.9"/>
<circle cx="90.99" cy="809.06" r="0.62" fill="#6a6a6a"/>
<circle cx="90.99" cy="829.41" r="0.62" fill="#6a6a6a"/>
<circle cx="90.99" cy="834.5" r="0.62" fill="#6a6a6a"/>
<circle cx="90.99" cy="891.06" r="0.62" fill="#6a6a6a"/>
<path d="M114.78 853.35V859.34M114.78 869.56V872.5" stroke="#000" stroke-width="0.8" stroke-dasharray="0.8 1.9" fill="none"/>
<path d="M109.93 853.35H119.63M109.93 872.5H119.63" stroke="#000" stroke-width="1" fill="none"/>
<rect x="105.7" y="859.84" width="18.15" height="9.23" fill="#0000ff" stroke="#000" stroke-width="1.15"/>
<path d="M105.6 864.62H123.96" stroke="#000" stroke-width="1.3"/>
<ellipse cx="114.78" cy="864.12" rx="4.1" ry="3.25" fill="#0000ff" stroke="#000" stroke-width="0.9"/>
<circle cx="114.78" cy="838.99" r="0.62" fill="#6a6a6a"/>
<path d="M158.92 837.79V850.96M158.92 863.88V866.82" stroke="#000" stroke-width="0.8" stroke-dasharray="0.8 1.9" fill="none"/>
<path d="M154.07 837.79H163.77M154.07 866.82H163.77" stroke="#000" stroke-width="1" fill="none"/>
<rect x="149.7" y="851.46" width="18.45" height="11.92" fill="#ff0000" stroke="#000" stroke-width="1.15"/>
<path d="M149.6 855.94H168.25" stroke="#000" stroke-width="1.3"/>
<ellipse cx="158.92" cy="855.74" rx="4.1" ry="3.25" fill="#ff0000" stroke="#000" stroke-width="0.9"/>
<circle cx="158.92" cy="809.06" r="0.62" fill="#6a6a6a"/>
<circle cx="158.92" cy="813.85" r="0.62" fill="#6a6a6a"/>
<circle cx="158.92" cy="891.06" r="0.62" fill="#6a6a6a"/>
<path d="M182.86 854.25V859.93M182.86 865.97V870.41" stroke="#000" stroke-width="0.8" stroke-dasharray="0.8 1.9" fill="none"/>
<path d="M178.01 854.25H187.71M178.01 870.41H187.71" stroke="#000" stroke-width="1" fill="none"/>
<rect x="173.64" y="860.43" width="18.45" height="5.04" fill="#0000ff" stroke="#000" stroke-width="1.15"/>
<path d="M173.54 862.83H192.19" stroke="#000" stroke-width="1.3"/>
<ellipse cx="182.86" cy="862.03" rx="4.1" ry="3.25" fill="#0000ff" stroke="#000" stroke-width="0.9"/>
<circle cx="182.86" cy="850.66" r="0.62" fill="#6a6a6a"/>
<path d="M227.01 845.27V856.34M227.01 866.57V876.09" stroke="#000" stroke-width="0.8" stroke-dasharray="0.8 1.9" fill="none"/>
<path d="M222.16 845.27H231.86M222.16 876.09H231.86" stroke="#000" stroke-width="1" fill="none"/>
<rect x="217.93" y="856.84" width="18.15" height="9.23" fill="#ff0000" stroke="#000" stroke-width="1.15"/>
<path d="M217.83 863.73H236.18" stroke="#000" stroke-width="1.3"/>
<ellipse cx="227.01" cy="860.23" rx="4.1" ry="3.25" fill="#ff0000" stroke="#000" stroke-width="0.9"/>
<circle cx="227.01" cy="819.53" r="0.62" fill="#6a6a6a"/>
<circle cx="227.01" cy="823.42" r="0.62" fill="#6a6a6a"/>
<circle cx="227.01" cy="836.29" r="0.62" fill="#6a6a6a"/>
<circle cx="227.01" cy="891.06" r="0.62" fill="#6a6a6a"/>
<path d="M250.95 850.36V860.83M250.95 868.66V872.2" stroke="#000" stroke-width="0.8" stroke-dasharray="0.8 1.9" fill="none"/>
<path d="M246.1 850.36H255.8M246.1 872.2H255.8" stroke="#000" stroke-width="1" fill="none"/>
<rect x="241.87" y="861.33" width="18.15" height="6.83" fill="#0000ff" stroke="#000" stroke-width="1.15"/>
<path d="M241.77 864.62H260.13" stroke="#000" stroke-width="1.3"/>
<ellipse cx="250.95" cy="864.42" rx="4.1" ry="3.25" fill="#0000ff" stroke="#000" stroke-width="0.9"/>
<polygon points="164.66,814.02 165.46,818.43 168.01,818.45 165.95,821.2 166.73,825.62 164.66,822.9 162.59,825.62 163.37,821.2 161.31,818.45 163.86,818.43" fill="#000" stroke="#000" stroke-width="0.4" stroke-linejoin="miter"/><circle cx="164.66" cy="820.43" r="0.6" fill="#ddd"/>
<polygon points="176.63,814.02 177.43,818.43 179.98,818.45 177.92,821.2 178.7,825.62 176.63,822.9 174.56,825.62 175.34,821.2 173.28,818.45 175.83,818.43" fill="#000" stroke="#000" stroke-width="0.4" stroke-linejoin="miter"/><circle cx="176.63" cy="820.43" r="0.6" fill="#ddd"/>
<path d="M295.14 838.09V854.25M295.14 867.77V880.28" stroke="#000" stroke-width="0.8" stroke-dasharray="0.8 1.9" fill="none"/>
<path d="M290.29 838.09H299.99M290.29 880.28H299.99" stroke="#000" stroke-width="1" fill="none"/>
<rect x="286.06" y="854.75" width="18.15" height="12.52" fill="#ff0000" stroke="#000" stroke-width="1.15"/>
<path d="M285.96 861.63H304.32" stroke="#000" stroke-width="1.3"/>
<ellipse cx="295.14" cy="860.83" rx="4.1" ry="3.25" fill="#ff0000" stroke="#000" stroke-width="0.9"/>
<circle cx="295.14" cy="812.35" r="0.62" fill="#6a6a6a"/>
<circle cx="295.14" cy="828.81" r="0.62" fill="#6a6a6a"/>
<circle cx="295.14" cy="891.06" r="0.62" fill="#6a6a6a"/>
<path d="M319.08 856.64V863.82M319.08 869.86V871.31" stroke="#000" stroke-width="0.8" stroke-dasharray="0.8 1.9" fill="none"/>
<path d="M314.23 856.64H323.93M314.23 871.31H323.93" stroke="#000" stroke-width="1" fill="none"/>
<rect x="310" y="864.32" width="18.15" height="5.04" fill="#0000ff" stroke="#000" stroke-width="1.15"/>
<path d="M309.9 867.02H328.26" stroke="#000" stroke-width="1.3"/>
<ellipse cx="319.08" cy="866.22" rx="4.1" ry="3.25" fill="#0000ff" stroke="#000" stroke-width="0.9"/>
<path d="M363.22 840.18V853.05M363.22 866.87V879.69" stroke="#000" stroke-width="0.8" stroke-dasharray="0.8 1.9" fill="none"/>
<path d="M358.37 840.18H368.07M358.37 879.69H368.07" stroke="#000" stroke-width="1" fill="none"/>
<rect x="354" y="853.55" width="18.45" height="12.82" fill="#ff0000" stroke="#000" stroke-width="1.15"/>
<path d="M353.9 860.13H372.55" stroke="#000" stroke-width="1.3"/>
<ellipse cx="363.22" cy="858.44" rx="4.1" ry="3.25" fill="#ff0000" stroke="#000" stroke-width="0.9"/>
<circle cx="363.22" cy="818.34" r="0.62" fill="#6a6a6a"/>
<circle cx="363.22" cy="829.71" r="0.62" fill="#6a6a6a"/>
<circle cx="363.22" cy="891.06" r="0.62" fill="#6a6a6a"/>
<path d="M387.16 858.44V862.93M387.16 868.36V872.8" stroke="#000" stroke-width="0.8" stroke-dasharray="0.8 1.9" fill="none"/>
<path d="M382.31 858.44H392.01M382.31 872.8H392.01" stroke="#000" stroke-width="1" fill="none"/>
<rect x="377.94" y="863.43" width="18.45" height="4.44" fill="#0000ff" stroke="#000" stroke-width="1.15"/>
<path d="M377.84 865.82H396.49" stroke="#000" stroke-width="1.3"/>
<ellipse cx="387.16" cy="865.62" rx="4.1" ry="3.25" fill="#0000ff" stroke="#000" stroke-width="0.9"/>
<circle cx="387.16" cy="853.05" r="0.62" fill="#6a6a6a"/>
<path d="M431.46 848.26V853.65M431.46 868.66V875.8" stroke="#000" stroke-width="0.8" stroke-dasharray="0.8 1.9" fill="none"/>
<path d="M426.61 848.26H436.31M426.61 875.8H436.31" stroke="#000" stroke-width="1" fill="none"/>
<rect x="422.23" y="854.15" width="18.45" height="14.01" fill="#ff0000" stroke="#000" stroke-width="1.15"/>
<path d="M422.13 861.63H440.78" stroke="#000" stroke-width="1.3"/>
<ellipse cx="431.46" cy="859.34" rx="4.1" ry="3.25" fill="#ff0000" stroke="#000" stroke-width="0.9"/>
<circle cx="431.46" cy="806.96" r="0.62" fill="#6a6a6a"/>
<circle cx="431.46" cy="828.81" r="0.62" fill="#6a6a6a"/>
<circle cx="431.46" cy="891.06" r="0.62" fill="#6a6a6a"/>
<path d="M455.25 859.34V862.33M455.25 868.66V873.1" stroke="#000" stroke-width="0.8" stroke-dasharray="0.8 1.9" fill="none"/>
<path d="M450.4 859.34H460.1M450.4 873.1H460.1" stroke="#000" stroke-width="1" fill="none"/>
<rect x="446.17" y="862.83" width="18.15" height="5.34" fill="#0000ff" stroke="#000" stroke-width="1.15"/>
<path d="M446.07 865.52H464.42" stroke="#000" stroke-width="1.3"/>
<ellipse cx="455.25" cy="865.32" rx="4.1" ry="3.25" fill="#0000ff" stroke="#000" stroke-width="0.9"/>
<polygon points="307.01,815.22 307.81,819.63 310.36,819.65 308.3,822.39 309.08,826.82 307.01,824.1 304.94,826.82 305.72,822.39 303.66,819.65 306.21,819.63" fill="#000" stroke="#000" stroke-width="0.4" stroke-linejoin="miter"/><circle cx="307.01" cy="821.63" r="0.6" fill="#ddd"/>
<polygon points="369.26,815.22 370.06,819.63 372.61,819.65 370.55,822.39 371.33,826.82 369.26,824.1 367.19,826.82 367.97,822.39 365.91,819.65 368.46,819.63" fill="#000" stroke="#000" stroke-width="0.4" stroke-linejoin="miter"/><circle cx="369.26" cy="821.63" r="0.6" fill="#ddd"/>
<polygon points="381.23,815.22 382.03,819.63 384.58,819.65 382.52,822.39 383.3,826.82 381.23,824.1 379.16,826.82 379.94,822.39 377.88,819.65 380.43,819.63" fill="#000" stroke="#000" stroke-width="0.4" stroke-linejoin="miter"/><circle cx="381.23" cy="821.63" r="0.6" fill="#ddd"/>
<polygon points="442.88,815.22 443.68,819.63 446.23,819.65 444.17,822.39 444.95,826.82 442.88,824.1 440.81,826.82 441.59,822.39 439.53,819.65 442.08,819.63" fill="#000" stroke="#000" stroke-width="0.4" stroke-linejoin="miter"/><circle cx="442.88" cy="821.63" r="0.6" fill="#ddd"/>
<path d="M499.54 836.29V850.96M499.54 865.67V876.99" stroke="#000" stroke-width="0.8" stroke-dasharray="0.8 1.9" fill="none"/>
<path d="M494.69 836.29H504.39M494.69 876.99H504.39" stroke="#000" stroke-width="1" fill="none"/>
<rect x="490.46" y="851.46" width="18.15" height="13.71" fill="#ff0000" stroke="#000" stroke-width="1.15"/>
<path d="M490.36 857.74H508.72" stroke="#000" stroke-width="1.3"/>
<ellipse cx="499.54" cy="854.85" rx="4.1" ry="3.25" fill="#ff0000" stroke="#000" stroke-width="0.9"/>
<circle cx="499.54" cy="803.97" r="0.62" fill="#6a6a6a"/>
<circle cx="499.54" cy="806.96" r="0.62" fill="#6a6a6a"/>
<circle cx="499.54" cy="813.55" r="0.62" fill="#6a6a6a"/>
<circle cx="499.54" cy="891.06" r="0.62" fill="#6a6a6a"/>
<path d="M523.48 849.16V859.34M523.48 867.77V870.71" stroke="#000" stroke-width="0.8" stroke-dasharray="0.8 1.9" fill="none"/>
<path d="M518.63 849.16H528.33M518.63 870.71H528.33" stroke="#000" stroke-width="1" fill="none"/>
<rect x="514.41" y="859.84" width="18.15" height="7.43" fill="#0000ff" stroke="#000" stroke-width="1.15"/>
<path d="M514.31 863.73H532.66" stroke="#000" stroke-width="1.3"/>
<ellipse cx="523.48" cy="863.23" rx="4.1" ry="3.25" fill="#0000ff" stroke="#000" stroke-width="0.9"/>
<path d="M567.62 839.88V851.26M567.62 865.07V873.1" stroke="#000" stroke-width="0.8" stroke-dasharray="0.8 1.9" fill="none"/>
<path d="M562.77 839.88H572.47M562.77 873.1H572.47" stroke="#000" stroke-width="1" fill="none"/>
<rect x="558.4" y="851.76" width="18.45" height="12.82" fill="#ff0000" stroke="#000" stroke-width="1.15"/>
<path d="M558.3 857.44H576.95" stroke="#000" stroke-width="1.3"/>
<ellipse cx="567.62" cy="855.45" rx="4.1" ry="3.25" fill="#ff0000" stroke="#000" stroke-width="0.9"/>
<circle cx="567.62" cy="817.44" r="0.62" fill="#6a6a6a"/>
<circle cx="567.62" cy="821.33" r="0.62" fill="#6a6a6a"/>
<circle cx="567.62" cy="891.06" r="0.62" fill="#6a6a6a"/>
<path d="M591.72 859.34V861.73M591.72 870.46V874" stroke="#000" stroke-width="0.8" stroke-dasharray="0.8 1.9" fill="none"/>
<path d="M586.87 859.34H596.57M586.87 874H596.57" stroke="#000" stroke-width="1" fill="none"/>
<rect x="582.64" y="862.23" width="18.15" height="7.73" fill="#0000ff" stroke="#000" stroke-width="1.15"/>
<path d="M582.54 866.12H600.89" stroke="#000" stroke-width="1.3"/>
<ellipse cx="591.72" cy="865.62" rx="4.1" ry="3.25" fill="#0000ff" stroke="#000" stroke-width="0.9"/>
<path d="M635.86 832.4V849.46M635.86 863.58V872.2" stroke="#000" stroke-width="0.8" stroke-dasharray="0.8 1.9" fill="none"/>
<path d="M631.01 832.4H640.71M631.01 872.2H640.71" stroke="#000" stroke-width="1" fill="none"/>
<rect x="626.63" y="849.96" width="18.45" height="13.12" fill="#ff0000" stroke="#000" stroke-width="1.15"/>
<path d="M626.53 856.54H645.18" stroke="#000" stroke-width="1.3"/>
<ellipse cx="635.86" cy="854.25" rx="4.1" ry="3.25" fill="#ff0000" stroke="#000" stroke-width="0.9"/>
<circle cx="635.86" cy="805.47" r="0.62" fill="#6a6a6a"/>
<circle cx="635.86" cy="809.96" r="0.62" fill="#6a6a6a"/>
<circle cx="635.86" cy="891.06" r="0.62" fill="#6a6a6a"/>
<path d="M659.8 854.85V862.03M659.8 868.07V872.8" stroke="#000" stroke-width="0.8" stroke-dasharray="0.8 1.9" fill="none"/>
<path d="M654.95 854.85H664.65M654.95 872.8H664.65" stroke="#000" stroke-width="1" fill="none"/>
<rect x="650.57" y="862.53" width="18.45" height="5.04" fill="#0000ff" stroke="#000" stroke-width="1.15"/>
<path d="M650.47 865.22H669.13" stroke="#000" stroke-width="1.3"/>
<ellipse cx="659.8" cy="865.02" rx="4.1" ry="3.25" fill="#0000ff" stroke="#000" stroke-width="0.9"/>
<polygon points="511.11,814.92 511.91,819.33 514.46,819.35 512.4,822.09 513.18,826.52 511.11,823.8 509.04,826.52 509.82,822.09 507.76,819.35 510.32,819.33" fill="#000" stroke="#000" stroke-width="0.4" stroke-linejoin="miter"/><circle cx="511.11" cy="821.33" r="0.6" fill="#ddd"/>
<polygon points="573.36,814.02 574.16,818.43 576.71,818.45 574.65,821.2 575.43,825.62 573.36,822.9 571.29,825.62 572.07,821.2 570.01,818.45 572.56,818.43" fill="#000" stroke="#000" stroke-width="0.4" stroke-linejoin="miter"/><circle cx="573.36" cy="820.43" r="0.6" fill="#ddd"/>
<polygon points="585.33,814.02 586.13,818.43 588.68,818.45 586.62,821.2 587.4,825.62 585.33,822.9 583.26,825.62 584.04,821.2 581.98,818.45 584.53,818.43" fill="#000" stroke="#000" stroke-width="0.4" stroke-linejoin="miter"/><circle cx="585.33" cy="820.43" r="0.6" fill="#ddd"/>
<polygon points="642.19,814.62 642.99,819.03 645.54,819.05 643.48,821.79 644.26,826.22 642.19,823.5 640.12,826.22 640.9,821.79 638.84,819.05 641.4,819.03" fill="#000" stroke="#000" stroke-width="0.4" stroke-linejoin="miter"/><circle cx="642.19" cy="821.03" r="0.6" fill="#ddd"/>
<polygon points="654.16,814.62 654.96,819.03 657.51,819.05 655.45,821.79 656.23,826.22 654.16,823.5 652.09,826.22 652.87,821.79 650.81,819.05 653.37,819.03" fill="#000" stroke="#000" stroke-width="0.4" stroke-linejoin="miter"/><circle cx="654.16" cy="821.03" r="0.6" fill="#ddd"/>
<rect x="68.7" y="796.8" width="613.2" height="111.5" fill="none" stroke="#333" stroke-width="1"/>
<path d="M103.1 908.3v-5.5M103.1 796.8v5.5M171.2 908.3v-5.5M171.2 796.8v5.5M239.3 908.3v-5.5M239.3 796.8v5.5M307.4 908.3v-5.5M307.4 796.8v5.5M375.5 908.3v-5.5M375.5 796.8v5.5M443.6 908.3v-5.5M443.6 796.8v5.5M511.7 908.3v-5.5M511.7 796.8v5.5M579.8 908.3v-5.5M579.8 796.8v5.5M647.9 908.3v-5.5M647.9 796.8v5.5M68.7 804.5h6.2M681.9 804.5h-6.2M68.7 839.4h6.2M681.9 839.4h-6.2M68.7 874.2h6.2M681.9 874.2h-6.2M68.7 908.3h6.2M681.9 908.3h-6.2" stroke="#333" stroke-width="1" fill="none"/>
<text transform="translate(65.1 808.4) scale(1.2 1)" font-size="9" text-anchor="end" fill="#151515">6</text>
<text transform="translate(65.1 843.3) scale(1.2 1)" font-size="9" text-anchor="end" fill="#151515">4</text>
<text transform="translate(65.1 878.1) scale(1.2 1)" font-size="9" text-anchor="end" fill="#151515">2</text>
<text transform="translate(65.1 912.2) scale(1.2 1)" font-size="9" text-anchor="end" fill="#151515">0</text>
<text transform="translate(53.3 852.55) scale(1.2 1) rotate(-90)" font-size="9.9" text-anchor="middle" fill="#151515">TMH_p</text>
<text transform="translate(12.9 802.7) scale(1.316 1)" font-family="'Liberation Serif',serif" font-size="13.3" text-anchor="middle" fill="#111">(G)</text>
</g>
<g id="pH">
<path d="M90.99 975.67V979.26M90.99 989.49V1003.8" stroke="#000" stroke-width="0.8" stroke-dasharray="0.8 1.9" fill="none"/>
<path d="M86.14 975.67H95.84M86.14 1003.8H95.84" stroke="#000" stroke-width="1" fill="none"/>
<rect x="81.76" y="979.76" width="18.45" height="9.23" fill="#ff0000" stroke="#000" stroke-width="1.15"/>
<path d="M81.66 984.55H100.32" stroke="#000" stroke-width="1.3"/>
<ellipse cx="90.99" cy="984.35" rx="4.1" ry="3.25" fill="#ff0000" stroke="#000" stroke-width="0.9"/>
<circle cx="90.99" cy="956.52" r="0.62" fill="#6a6a6a"/>
<circle cx="90.99" cy="1007.39" r="0.62" fill="#6a6a6a"/>
<circle cx="90.99" cy="1014.88" r="0.62" fill="#6a6a6a"/>
<path d="M114.78 974.77V983.15M114.78 989.79V995.72" stroke="#000" stroke-width="0.8" stroke-dasharray="0.8 1.9" fill="none"/>
<path d="M109.93 974.77H119.63M109.93 995.72H119.63" stroke="#000" stroke-width="1" fill="none"/>
<rect x="105.7" y="983.65" width="18.15" height="5.63" fill="#0000ff" stroke="#000" stroke-width="1.15"/>
<path d="M105.6 986.35H123.96" stroke="#000" stroke-width="1.3"/>
<ellipse cx="114.78" cy="986.45" rx="4.1" ry="3.25" fill="#0000ff" stroke="#000" stroke-width="0.9"/>
<circle cx="114.78" cy="1000.81" r="0.62" fill="#6a6a6a"/>
<path d="M159.07 974.77V981.36M159.07 996.67V1003.8" stroke="#000" stroke-width="0.8" stroke-dasharray="0.8 1.9" fill="none"/>
<path d="M154.22 974.77H163.92M154.22 1003.8H163.92" stroke="#000" stroke-width="1" fill="none"/>
<rect x="150" y="981.86" width="18.15" height="14.31" fill="#ff0000" stroke="#000" stroke-width="1.15"/>
<path d="M149.9 988.44H168.25" stroke="#000" stroke-width="1.3"/>
<ellipse cx="159.07" cy="986.74" rx="4.1" ry="3.25" fill="#ff0000" stroke="#000" stroke-width="0.9"/>
<path d="M183.01 977.17V984.35M183.01 990.99V1000.21" stroke="#000" stroke-width="0.8" stroke-dasharray="0.8 1.9" fill="none"/>
<path d="M178.16 977.17H187.86M178.16 1000.21H187.86" stroke="#000" stroke-width="1" fill="none"/>
<rect x="173.94" y="984.85" width="18.15" height="5.63" fill="#0000ff" stroke="#000" stroke-width="1.15"/>
<path d="M173.84 987.54H192.19" stroke="#000" stroke-width="1.3"/>
<ellipse cx="183.01" cy="987.34" rx="4.1" ry="3.25" fill="#0000ff" stroke="#000" stroke-width="0.9"/>
<circle cx="183.01" cy="1002.61" r="0.62" fill="#6a6a6a"/>
<path d="M227.16 971.78V981.66M227.16 991.88V1006.2" stroke="#000" stroke-width="0.8" stroke-dasharray="0.8 1.9" fill="none"/>
<path d="M222.31 971.78H232.01M222.31 1006.2H232.01" stroke="#000" stroke-width="1" fill="none"/>
<rect x="217.93" y="982.16" width="18.45" height="9.23" fill="#ff0000" stroke="#000" stroke-width="1.15"/>
<path d="M217.83 986.94H236.48" stroke="#000" stroke-width="1.3"/>
<ellipse cx="227.16" cy="984.95" rx="4.1" ry="3.25" fill="#ff0000" stroke="#000" stroke-width="0.9"/>
<circle cx="227.16" cy="939.76" r="0.62" fill="#6a6a6a"/>
<circle cx="227.16" cy="959.21" r="0.62" fill="#6a6a6a"/>
<path d="M251.1 973.88V977.47M251.1 986.5V995.72" stroke="#000" stroke-width="0.8" stroke-dasharray="0.8 1.9" fill="none"/>
<path d="M246.25 973.88H255.95M246.25 995.72H255.95" stroke="#000" stroke-width="1" fill="none"/>
<rect x="241.87" y="977.97" width="18.45" height="8.03" fill="#0000ff" stroke="#000" stroke-width="1.15"/>
<path d="M241.77 982.16H260.42" stroke="#000" stroke-width="1.3"/>
<ellipse cx="251.1" cy="982.55" rx="4.1" ry="3.25" fill="#0000ff" stroke="#000" stroke-width="0.9"/>
<polygon points="238.68,942.92 239.48,947.34 242.03,947.35 239.97,950.1 240.75,954.52 238.68,951.8 236.61,954.52 237.39,950.1 235.33,947.35 237.88,947.34" fill="#000" stroke="#000" stroke-width="0.4" stroke-linejoin="miter"/><circle cx="238.68" cy="949.34" r="0.6" fill="#ddd"/>
<path d="M295.29 970.28V977.47M295.29 991.58V1004.7" stroke="#000" stroke-width="0.8" stroke-dasharray="0.8 1.9" fill="none"/>
<path d="M290.44 970.28H300.14M290.44 1004.7H300.14" stroke="#000" stroke-width="1" fill="none"/>
<rect x="286.06" y="977.97" width="18.45" height="13.12" fill="#ff0000" stroke="#000" stroke-width="1.15"/>
<path d="M285.96 983.35H304.61" stroke="#000" stroke-width="1.3"/>
<ellipse cx="295.29" cy="983.45" rx="4.1" ry="3.25" fill="#ff0000" stroke="#000" stroke-width="0.9"/>
<circle cx="295.29" cy="949.34" r="0.62" fill="#6a6a6a"/>
<path d="M319.23 971.18V978.36M319.23 986.5V995.72" stroke="#000" stroke-width="0.8" stroke-dasharray="0.8 1.9" fill="none"/>
<path d="M314.38 971.18H324.08M314.38 995.72H324.08" stroke="#000" stroke-width="1" fill="none"/>
<rect x="310" y="978.86" width="18.45" height="7.13" fill="#0000ff" stroke="#000" stroke-width="1.15"/>
<path d="M309.9 982.46H328.56" stroke="#000" stroke-width="1.3"/>
<ellipse cx="319.23" cy="982.26" rx="4.1" ry="3.25" fill="#0000ff" stroke="#000" stroke-width="0.9"/>
<path d="M363.52 973.28V981.36M363.52 993.98V1010.39" stroke="#000" stroke-width="0.8" stroke-dasharray="0.8 1.9" fill="none"/>
<path d="M358.67 973.28H368.37M358.67 1010.39H368.37" stroke="#000" stroke-width="1" fill="none"/>
<rect x="354.3" y="981.86" width="18.45" height="11.62" fill="#ff0000" stroke="#000" stroke-width="1.15"/>
<path d="M354.2 986.35H372.85" stroke="#000" stroke-width="1.3"/>
<ellipse cx="363.52" cy="986.15" rx="4.1" ry="3.25" fill="#ff0000" stroke="#000" stroke-width="0.9"/>
<circle cx="363.52" cy="949.93" r="0.62" fill="#6a6a6a"/>
<path d="M387.31 976.27V981.36M387.31 987.09V993.03" stroke="#000" stroke-width="0.8" stroke-dasharray="0.8 1.9" fill="none"/>
<path d="M382.46 976.27H392.16M382.46 993.03H392.16" stroke="#000" stroke-width="1" fill="none"/>
<rect x="378.24" y="981.86" width="18.15" height="4.74" fill="#0000ff" stroke="#000" stroke-width="1.15"/>
<path d="M378.14 983.95H396.49" stroke="#000" stroke-width="1.3"/>
<ellipse cx="387.31" cy="984.05" rx="4.1" ry="3.25" fill="#0000ff" stroke="#000" stroke-width="0.9"/>
<circle cx="387.31" cy="972.68" r="0.62" fill="#6a6a6a"/>
<circle cx="387.31" cy="998.12" r="0.62" fill="#6a6a6a"/>
<path d="M431.46 971.18V978.07M431.46 989.49V1003.2" stroke="#000" stroke-width="0.8" stroke-dasharray="0.8 1.9" fill="none"/>
<path d="M426.61 971.18H436.31M426.61 1003.2H436.31" stroke="#000" stroke-width="1" fill="none"/>
<rect x="422.23" y="978.57" width="18.45" height="10.42" fill="#ff0000" stroke="#000" stroke-width="1.15"/>
<path d="M422.13 983.35H440.78" stroke="#000" stroke-width="1.3"/>
<ellipse cx="431.46" cy="983.45" rx="4.1" ry="3.25" fill="#ff0000" stroke="#000" stroke-width="0.9"/>
<circle cx="431.46" cy="952.33" r="0.62" fill="#6a6a6a"/>
<circle cx="431.46" cy="1007.69" r="0.62" fill="#6a6a6a"/>
<circle cx="431.46" cy="1012.78" r="0.62" fill="#6a6a6a"/>
<path d="M455.4 972.38V982.26M455.4 989.49V998.12" stroke="#000" stroke-width="0.8" stroke-dasharray="0.8 1.9" fill="none"/>
<path d="M450.55 972.38H460.25M450.55 998.12H460.25" stroke="#000" stroke-width="1" fill="none"/>
<rect x="446.17" y="982.76" width="18.45" height="6.23" fill="#0000ff" stroke="#000" stroke-width="1.15"/>
<path d="M446.07 986.05H464.72" stroke="#000" stroke-width="1.3"/>
<ellipse cx="455.4" cy="985.85" rx="4.1" ry="3.25" fill="#0000ff" stroke="#000" stroke-width="0.9"/>
<path d="M499.69 966.69V982.55M499.69 996.37V1010.39" stroke="#000" stroke-width="0.8" stroke-dasharray="0.8 1.9" fill="none"/>
<path d="M494.84 966.69H504.54M494.84 1010.39H504.54" stroke="#000" stroke-width="1" fill="none"/>
<rect x="490.46" y="983.05" width="18.45" height="12.82" fill="#ff0000" stroke="#000" stroke-width="1.15"/>
<path d="M490.36 986.65H509.02" stroke="#000" stroke-width="1.3"/>
<ellipse cx="499.69" cy="987.64" rx="4.1" ry="3.25" fill="#ff0000" stroke="#000" stroke-width="0.9"/>
<circle cx="499.69" cy="1016.37" r="0.62" fill="#6a6a6a"/>
<path d="M523.63 978.36V984.95M523.63 991.28V995.12" stroke="#000" stroke-width="0.8" stroke-dasharray="0.8 1.9" fill="none"/>
<path d="M518.78 978.36H528.48M518.78 995.12H528.48" stroke="#000" stroke-width="1" fill="none"/>
<rect x="514.41" y="985.45" width="18.45" height="5.34" fill="#0000ff" stroke="#000" stroke-width="1.15"/>
<path d="M514.31 987.84H532.96" stroke="#000" stroke-width="1.3"/>
<ellipse cx="523.63" cy="987.64" rx="4.1" ry="3.25" fill="#0000ff" stroke="#000" stroke-width="0.9"/>
<circle cx="523.63" cy="1001.11" r="0.62" fill="#6a6a6a"/>
<path d="M567.92 973.28V982.55M567.92 995.77V1009.79" stroke="#000" stroke-width="0.8" stroke-dasharray="0.8 1.9" fill="none"/>
<path d="M563.07 973.28H572.77M563.07 1009.79H572.77" stroke="#000" stroke-width="1" fill="none"/>
<rect x="558.7" y="983.05" width="18.45" height="12.22" fill="#ff0000" stroke="#000" stroke-width="1.15"/>
<path d="M558.6 991.43H577.25" stroke="#000" stroke-width="1.3"/>
<ellipse cx="567.92" cy="988.54" rx="4.1" ry="3.25" fill="#ff0000" stroke="#000" stroke-width="0.9"/>
<path d="M591.86 977.47V983.45M591.86 989.49V994.23" stroke="#000" stroke-width="0.8" stroke-dasharray="0.8 1.9" fill="none"/>
<path d="M587.01 977.47H596.71M587.01 994.23H596.71" stroke="#000" stroke-width="1" fill="none"/>
<rect x="582.64" y="983.95" width="18.45" height="5.04" fill="#0000ff" stroke="#000" stroke-width="1.15"/>
<path d="M582.54 986.35H601.19" stroke="#000" stroke-width="1.3"/>
<ellipse cx="591.86" cy="986.45" rx="4.1" ry="3.25" fill="#0000ff" stroke="#000" stroke-width="0.9"/>
<circle cx="591.86" cy="997.82" r="0.62" fill="#6a6a6a"/>
<circle cx="591.86" cy="1003.2" r="0.62" fill="#6a6a6a"/>
<path d="M635.86 966.69V981.96M635.86 993.98V1009.19" stroke="#000" stroke-width="0.8" stroke-dasharray="0.8 1.9" fill="none"/>
<path d="M631.01 966.69H640.71M631.01 1009.19H640.71" stroke="#000" stroke-width="1" fill="none"/>
<rect x="626.63" y="982.46" width="18.45" height="11.02" fill="#ff0000" stroke="#000" stroke-width="1.15"/>
<path d="M626.53 987.54H645.18" stroke="#000" stroke-width="1.3"/>
<ellipse cx="635.86" cy="987.34" rx="4.1" ry="3.25" fill="#ff0000" stroke="#000" stroke-width="0.9"/>
<path d="M659.95 977.17V982.26M659.95 991.28V999.61" stroke="#000" stroke-width="0.8" stroke-dasharray="0.8 1.9" fill="none"/>
<path d="M655.1 977.17H664.8M655.1 999.61H664.8" stroke="#000" stroke-width="1" fill="none"/>
<rect x="650.87" y="982.76" width="18.15" height="8.03" fill="#0000ff" stroke="#000" stroke-width="1.15"/>
<path d="M650.77 987.24H669.13" stroke="#000" stroke-width="1.3"/>
<ellipse cx="659.95" cy="987.04" rx="4.1" ry="3.25" fill="#0000ff" stroke="#000" stroke-width="0.9"/>
<rect x="69.5" y="927.4" width="613.1" height="111.4" fill="none" stroke="#333" stroke-width="1"/>
<path d="M103.1 1038.8v-5.5M103.1 927.4v5.5M171.2 1038.8v-5.5M171.2 927.4v5.5M239.3 1038.8v-5.5M239.3 927.4v5.5M307.4 1038.8v-5.5M307.4 927.4v5.5M375.5 1038.8v-5.5M375.5 927.4v5.5M443.6 1038.8v-5.5M443.6 927.4v5.5M511.7 1038.8v-5.5M511.7 927.4v5.5M579.8 1038.8v-5.5M579.8 927.4v5.5M647.9 1038.8v-5.5M647.9 927.4v5.5M69.5 954.4h6.2M682.6 954.4h-6.2M69.5 990.8h6.2M682.6 990.8h-6.2M69.5 1027.1h6.2M682.6 1027.1h-6.2" stroke="#333" stroke-width="1" fill="none"/>
<text transform="translate(65.9 958.3) scale(1.2 1)" font-size="9" text-anchor="end" fill="#151515">100</text>
<text transform="translate(65.9 994.7) scale(1.2 1)" font-size="9" text-anchor="end" fill="#151515">50</text>
<text transform="translate(65.9 1031) scale(1.2 1)" font-size="9" text-anchor="end" fill="#151515">0</text>
<text transform="translate(42.2 983.1) scale(1.2 1) rotate(-90)" font-size="9.9" text-anchor="middle" fill="#151515">|N|</text>
<text transform="translate(12.9 932.8) scale(1.316 1)" font-family="'Liberation Serif',serif" font-size="13.3" text-anchor="middle" fill="#111">(H)</text>
</g>
<g id="pI">
<path d="M91.59 1096.69V1111.36M91.59 1121.88V1125.12" stroke="#000" stroke-width="0.8" stroke-dasharray="0.8 1.9" fill="none"/>
<path d="M86.74 1096.69H96.44M86.74 1125.12H96.44" stroke="#000" stroke-width="1" fill="none"/>
<rect x="82.36" y="1111.86" width="18.45" height="9.53" fill="#ff0000" stroke="#000" stroke-width="1.15"/>
<path d="M82.26 1116.35H100.91" stroke="#000" stroke-width="1.3"/>
<ellipse cx="91.59" cy="1116.45" rx="4.1" ry="3.25" fill="#ff0000" stroke="#000" stroke-width="0.9"/>
<circle cx="91.59" cy="1084.72" r="0.62" fill="#6a6a6a"/>
<circle cx="91.59" cy="1090.41" r="0.62" fill="#6a6a6a"/>
<circle cx="91.59" cy="1144.88" r="0.62" fill="#6a6a6a"/>
<path d="M115.53 1104.77V1111.36M115.53 1117.99V1126.02" stroke="#000" stroke-width="0.8" stroke-dasharray="0.8 1.9" fill="none"/>
<path d="M110.68 1104.77H120.38M110.68 1126.02H120.38" stroke="#000" stroke-width="1" fill="none"/>
<rect x="106.3" y="1111.86" width="18.45" height="5.63" fill="#0000ff" stroke="#000" stroke-width="1.15"/>
<path d="M106.2 1114.55H124.86" stroke="#000" stroke-width="1.3"/>
<ellipse cx="115.53" cy="1114.65" rx="4.1" ry="3.25" fill="#0000ff" stroke="#000" stroke-width="0.9"/>
<circle cx="115.53" cy="1099.39" r="0.62" fill="#6a6a6a"/>
<path d="M159.82 1096.69V1104.47M159.82 1119.79V1126.02" stroke="#000" stroke-width="0.8" stroke-dasharray="0.8 1.9" fill="none"/>
<path d="M154.97 1096.69H164.67M154.97 1126.02H164.67" stroke="#000" stroke-width="1" fill="none"/>
<rect x="150.59" y="1104.97" width="18.45" height="14.31" fill="#ff0000" stroke="#000" stroke-width="1.15"/>
<path d="M150.49 1112.16H169.15" stroke="#000" stroke-width="1.3"/>
<ellipse cx="159.82" cy="1114.35" rx="4.1" ry="3.25" fill="#ff0000" stroke="#000" stroke-width="0.9"/>
<path d="M183.76 1100.28V1110.16M183.76 1117.09V1123.93" stroke="#000" stroke-width="0.8" stroke-dasharray="0.8 1.9" fill="none"/>
<path d="M178.91 1100.28H188.61M178.91 1123.93H188.61" stroke="#000" stroke-width="1" fill="none"/>
<rect x="174.54" y="1110.66" width="18.45" height="5.93" fill="#0000ff" stroke="#000" stroke-width="1.15"/>
<path d="M174.44 1113.65H193.09" stroke="#000" stroke-width="1.3"/>
<ellipse cx="183.76" cy="1113.75" rx="4.1" ry="3.25" fill="#0000ff" stroke="#000" stroke-width="0.9"/>
<circle cx="183.76" cy="1097.29" r="0.62" fill="#6a6a6a"/>
<path d="M227.76 1094V1109.56M227.76 1119.49V1129.01" stroke="#000" stroke-width="0.8" stroke-dasharray="0.8 1.9" fill="none"/>
<path d="M222.91 1094H232.61M222.91 1129.01H232.61" stroke="#000" stroke-width="1" fill="none"/>
<rect x="218.53" y="1110.06" width="18.45" height="8.93" fill="#ff0000" stroke="#000" stroke-width="1.15"/>
<path d="M218.43 1113.35H237.08" stroke="#000" stroke-width="1.3"/>
<ellipse cx="227.76" cy="1115.85" rx="4.1" ry="3.25" fill="#ff0000" stroke="#000" stroke-width="0.9"/>
<circle cx="227.76" cy="1141.88" r="0.62" fill="#6a6a6a"/>
<circle cx="227.76" cy="1161.93" r="0.62" fill="#6a6a6a"/>
<path d="M251.7 1104.47V1114.35M251.7 1123.68V1126.92" stroke="#000" stroke-width="0.8" stroke-dasharray="0.8 1.9" fill="none"/>
<path d="M246.85 1104.47H256.55M246.85 1126.92H256.55" stroke="#000" stroke-width="1" fill="none"/>
<rect x="242.47" y="1114.85" width="18.45" height="8.33" fill="#0000ff" stroke="#000" stroke-width="1.15"/>
<path d="M242.37 1119.04H261.02" stroke="#000" stroke-width="1.3"/>
<ellipse cx="251.7" cy="1118.24" rx="4.1" ry="3.25" fill="#0000ff" stroke="#000" stroke-width="0.9"/>
<polygon points="239.58,1072.62 240.37,1077.04 242.93,1077.05 240.87,1079.8 241.65,1084.22 239.58,1081.51 237.51,1084.22 238.29,1079.8 236.23,1077.05 238.78,1077.04" fill="#000" stroke="#000" stroke-width="0.4" stroke-linejoin="miter"/><circle cx="239.58" cy="1079.04" r="0.6" fill="#ddd"/>
<path d="M296.04 1095.8V1109.26M296.04 1123.68V1130.81" stroke="#000" stroke-width="0.8" stroke-dasharray="0.8 1.9" fill="none"/>
<path d="M291.19 1095.8H300.89M291.19 1130.81H300.89" stroke="#000" stroke-width="1" fill="none"/>
<rect x="286.96" y="1109.76" width="18.15" height="13.42" fill="#ff0000" stroke="#000" stroke-width="1.15"/>
<path d="M286.86 1117.24H305.21" stroke="#000" stroke-width="1.3"/>
<ellipse cx="296.04" cy="1117.64" rx="4.1" ry="3.25" fill="#ff0000" stroke="#000" stroke-width="0.9"/>
<circle cx="296.04" cy="1152.06" r="0.62" fill="#6a6a6a"/>
<path d="M319.98 1104.77V1114.65M319.98 1122.78V1130.21" stroke="#000" stroke-width="0.8" stroke-dasharray="0.8 1.9" fill="none"/>
<path d="M315.13 1104.77H324.83M315.13 1130.21H324.83" stroke="#000" stroke-width="1" fill="none"/>
<rect x="310.9" y="1115.15" width="18.15" height="7.13" fill="#0000ff" stroke="#000" stroke-width="1.15"/>
<path d="M310.8 1118.14H329.15" stroke="#000" stroke-width="1.3"/>
<ellipse cx="319.98" cy="1117.94" rx="4.1" ry="3.25" fill="#0000ff" stroke="#000" stroke-width="0.9"/>
<path d="M364.12 1090.11V1107.17M364.12 1120.39V1127.52" stroke="#000" stroke-width="0.8" stroke-dasharray="0.8 1.9" fill="none"/>
<path d="M359.27 1090.11H368.97M359.27 1127.52H368.97" stroke="#000" stroke-width="1" fill="none"/>
<rect x="354.89" y="1107.67" width="18.45" height="12.22" fill="#ff0000" stroke="#000" stroke-width="1.15"/>
<path d="M354.79 1113.95H373.45" stroke="#000" stroke-width="1.3"/>
<ellipse cx="364.12" cy="1114.95" rx="4.1" ry="3.25" fill="#ff0000" stroke="#000" stroke-width="0.9"/>
<circle cx="364.12" cy="1151.16" r="0.62" fill="#6a6a6a"/>
<path d="M388.06 1107.47V1114.35M388.06 1119.79V1124.53" stroke="#000" stroke-width="0.8" stroke-dasharray="0.8 1.9" fill="none"/>
<path d="M383.21 1107.47H392.91M383.21 1124.53H392.91" stroke="#000" stroke-width="1" fill="none"/>
<rect x="378.84" y="1114.85" width="18.45" height="4.44" fill="#0000ff" stroke="#000" stroke-width="1.15"/>
<path d="M378.74 1116.94H397.39" stroke="#000" stroke-width="1.3"/>
<ellipse cx="388.06" cy="1116.74" rx="4.1" ry="3.25" fill="#0000ff" stroke="#000" stroke-width="0.9"/>
<circle cx="388.06" cy="1102.38" r="0.62" fill="#6a6a6a"/>
<circle cx="388.06" cy="1128.12" r="0.62" fill="#6a6a6a"/>
<path d="M432.35 1097.29V1111.96M432.35 1123.38V1130.21" stroke="#000" stroke-width="0.8" stroke-dasharray="0.8 1.9" fill="none"/>
<path d="M427.5 1097.29H437.2M427.5 1130.21H437.2" stroke="#000" stroke-width="1" fill="none"/>
<rect x="423.13" y="1112.46" width="18.45" height="10.42" fill="#ff0000" stroke="#000" stroke-width="1.15"/>
<path d="M423.03 1117.24H441.68" stroke="#000" stroke-width="1.3"/>
<ellipse cx="432.35" cy="1117.34" rx="4.1" ry="3.25" fill="#ff0000" stroke="#000" stroke-width="0.9"/>
<circle cx="432.35" cy="1087.42" r="0.62" fill="#6a6a6a"/>
<circle cx="432.35" cy="1149.36" r="0.62" fill="#6a6a6a"/>
<path d="M456.15 1102.38V1111.66M456.15 1118.89V1128.12" stroke="#000" stroke-width="0.8" stroke-dasharray="0.8 1.9" fill="none"/>
<path d="M451.3 1102.38H461M451.3 1128.12H461" stroke="#000" stroke-width="1" fill="none"/>
<rect x="447.07" y="1112.16" width="18.15" height="6.23" fill="#0000ff" stroke="#000" stroke-width="1.15"/>
<path d="M446.97 1114.85H465.32" stroke="#000" stroke-width="1.3"/>
<ellipse cx="456.15" cy="1114.95" rx="4.1" ry="3.25" fill="#0000ff" stroke="#000" stroke-width="0.9"/>
<path d="M500.59 1090.11V1104.77M500.59 1118.59V1134.1" stroke="#000" stroke-width="0.8" stroke-dasharray="0.8 1.9" fill="none"/>
<path d="M495.74 1090.11H505.44M495.74 1134.1H505.44" stroke="#000" stroke-width="1" fill="none"/>
<rect x="491.36" y="1105.27" width="18.45" height="12.82" fill="#ff0000" stroke="#000" stroke-width="1.15"/>
<path d="M491.26 1114.25H509.91" stroke="#000" stroke-width="1.3"/>
<ellipse cx="500.59" cy="1113.75" rx="4.1" ry="3.25" fill="#ff0000" stroke="#000" stroke-width="0.9"/>
<circle cx="500.59" cy="1083.53" r="0.62" fill="#6a6a6a"/>
<path d="M524.38 1105.37V1110.16M524.38 1116.8V1122.43" stroke="#000" stroke-width="0.8" stroke-dasharray="0.8 1.9" fill="none"/>
<path d="M519.53 1105.37H529.23M519.53 1122.43H529.23" stroke="#000" stroke-width="1" fill="none"/>
<rect x="515.3" y="1110.66" width="18.15" height="5.63" fill="#0000ff" stroke="#000" stroke-width="1.15"/>
<path d="M515.2 1113.35H533.56" stroke="#000" stroke-width="1.3"/>
<ellipse cx="524.38" cy="1113.15" rx="4.1" ry="3.25" fill="#0000ff" stroke="#000" stroke-width="0.9"/>
<circle cx="524.38" cy="1099.39" r="0.62" fill="#6a6a6a"/>
<path d="M568.52 1090.41V1105.37M568.52 1118.59V1127.82" stroke="#000" stroke-width="0.8" stroke-dasharray="0.8 1.9" fill="none"/>
<path d="M563.67 1090.41H573.37M563.67 1127.82H573.37" stroke="#000" stroke-width="1" fill="none"/>
<rect x="559.3" y="1105.87" width="18.45" height="12.22" fill="#ff0000" stroke="#000" stroke-width="1.15"/>
<path d="M559.2 1109.16H577.85" stroke="#000" stroke-width="1.3"/>
<ellipse cx="568.52" cy="1112.26" rx="4.1" ry="3.25" fill="#ff0000" stroke="#000" stroke-width="0.9"/>
<path d="M592.46 1106.27V1111.96M592.46 1117.69V1123.33" stroke="#000" stroke-width="0.8" stroke-dasharray="0.8 1.9" fill="none"/>
<path d="M587.61 1106.27H597.31M587.61 1123.33H597.31" stroke="#000" stroke-width="1" fill="none"/>
<rect x="583.24" y="1112.46" width="18.45" height="4.74" fill="#0000ff" stroke="#000" stroke-width="1.15"/>
<path d="M583.14 1114.55H601.79" stroke="#000" stroke-width="1.3"/>
<ellipse cx="592.46" cy="1114.35" rx="4.1" ry="3.25" fill="#0000ff" stroke="#000" stroke-width="0.9"/>
<circle cx="592.46" cy="1096.99" r="0.62" fill="#6a6a6a"/>
<circle cx="592.46" cy="1100.88" r="0.62" fill="#6a6a6a"/>
<path d="M636.76 1091.31V1107.17M636.76 1119.49V1134.1" stroke="#000" stroke-width="0.8" stroke-dasharray="0.8 1.9" fill="none"/>
<path d="M631.91 1091.31H641.61M631.91 1134.1H641.61" stroke="#000" stroke-width="1" fill="none"/>
<rect x="627.53" y="1107.67" width="18.45" height="11.32" fill="#ff0000" stroke="#000" stroke-width="1.15"/>
<path d="M627.43 1113.35H646.08" stroke="#000" stroke-width="1.3"/>
<ellipse cx="636.76" cy="1113.75" rx="4.1" ry="3.25" fill="#ff0000" stroke="#000" stroke-width="0.9"/>
<path d="M660.7 1101.18V1109.86M660.7 1118.89V1123.93" stroke="#000" stroke-width="0.8" stroke-dasharray="0.8 1.9" fill="none"/>
<path d="M655.85 1101.18H665.55M655.85 1123.93H665.55" stroke="#000" stroke-width="1" fill="none"/>
<rect x="651.47" y="1110.36" width="18.45" height="8.03" fill="#0000ff" stroke="#000" stroke-width="1.15"/>
<path d="M651.37 1114.25H670.02" stroke="#000" stroke-width="1.3"/>
<ellipse cx="660.7" cy="1113.75" rx="4.1" ry="3.25" fill="#0000ff" stroke="#000" stroke-width="0.9"/>
<rect x="69.6" y="1057.4" width="613.2" height="111.9" fill="none" stroke="#333" stroke-width="1"/>
<path d="M103.5 1169.3v-5.5M103.5 1057.4v5.5M171.65 1169.3v-5.5M171.65 1057.4v5.5M239.8 1169.3v-5.5M239.8 1057.4v5.5M307.95 1169.3v-5.5M307.95 1057.4v5.5M376.1 1169.3v-5.5M376.1 1057.4v5.5M444.25 1169.3v-5.5M444.25 1057.4v5.5M512.4 1169.3v-5.5M512.4 1057.4v5.5M580.55 1169.3v-5.5M580.55 1057.4v5.5M648.7 1169.3v-5.5M648.7 1057.4v5.5M69.6 1075.1h6.2M682.8 1075.1h-6.2M69.6 1112.2h6.2M682.8 1112.2h-6.2M69.6 1149.3h6.2M682.8 1149.3h-6.2" stroke="#333" stroke-width="1" fill="none"/>
<text transform="translate(65.9 1079) scale(1.2 1)" font-size="9" text-anchor="end" fill="#151515">150</text>
<text transform="translate(65.9 1116.1) scale(1.2 1)" font-size="9" text-anchor="end" fill="#151515">100</text>
<text transform="translate(65.9 1153.2) scale(1.2 1)" font-size="9" text-anchor="end" fill="#151515">50</text>
<text transform="translate(42.2 1113.35) scale(1.2 1) rotate(-90)" font-size="9.9" text-anchor="middle" fill="#151515">|P|</text>
<text transform="translate(12.9 1063.1) scale(1.316 1)" font-family="'Liberation Serif',serif" font-size="13.3" text-anchor="middle" fill="#111">(I)</text>
</g>
<rect x="40" y="257.4" width="28" height="5" fill="#fff"/>
<rect x="40" y="519.6" width="28" height="5" fill="#fff"/>
<text transform="translate(103.4 1181.3) scale(1.2 1)" font-size="9" text-anchor="middle" fill="#151515">Delta</text>
<text transform="translate(171.7 1181.3) scale(1.2 1)" font-size="9" text-anchor="middle" fill="#151515">Theta</text>
<text transform="translate(239.3 1181.3) scale(1.2 1)" font-size="9" text-anchor="middle" fill="#151515">Alpha I</text>
<text transform="translate(307.7 1181.3) scale(1.2 1)" font-size="9" text-anchor="middle" fill="#151515">Alpha II</text>
<text transform="translate(376.1 1181.3) scale(1.2 1)" font-size="9" text-anchor="middle" fill="#151515">Beta I</text>
<text transform="translate(444.7 1181.3) scale(1.2 1)" font-size="9" text-anchor="middle" fill="#151515">Beta II</text>
<text transform="translate(512.5 1181.3) scale(1.2 1)" font-size="9" text-anchor="middle" fill="#151515">Beta III</text>
<text transform="translate(580.3 1181.3) scale(1.2 1)" font-size="9" text-anchor="middle" fill="#151515">Beta IV</text>
<text transform="translate(648.5 1181.3) scale(1.2 1)" font-size="9" text-anchor="middle" fill="#151515">Gama</text>
<path d="M69.2 533.3L73.8 537.9M73.8 533.3L69.2 537.9" stroke="#333" stroke-width="0.9" fill="none"/>
<text transform="translate(76.6 538) scale(1.2 1)" font-size="9.3" fill="#151515">10<tspan dy="-4.7" font-size="7.2">-3</tspan></text>
<rect x="600.3" y="15.2" width="73.8" height="24.7" fill="#fff" stroke="#333" stroke-width="1"/>
<rect x="604.2" y="18.2" width="39.7" height="7.5" fill="#ff0000" stroke="#000" stroke-width="0.8"/>
<rect x="604.2" y="29.3" width="39.7" height="7.3" fill="#0000ff" stroke="#000" stroke-width="0.8"/>
<text x="647.2" y="25.5" font-size="8.3" textLength="21.8" lengthAdjust="spacingAndGlyphs" fill="#000">OCD</text>
<text x="647.2" y="36.5" font-size="8.3" textLength="21.3" lengthAdjust="spacingAndGlyphs" fill="#000">CON</text>
</svg>
</body></html>
